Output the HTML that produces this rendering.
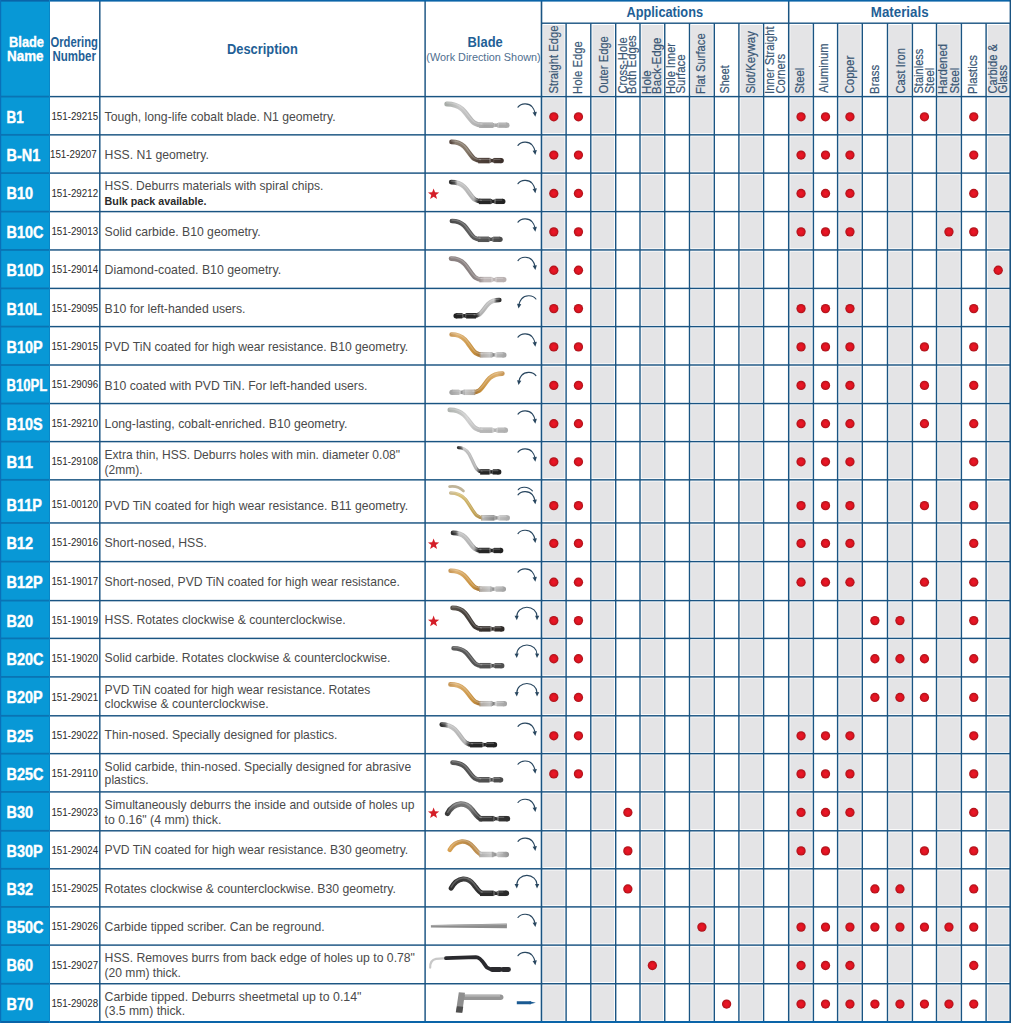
<!DOCTYPE html><html><head><meta charset="utf-8"><style>html,body{margin:0;padding:0;background:#fff;width:1011px;height:1023px;overflow:hidden}svg{display:block}text{font-family:"Liberation Sans",sans-serif}</style></head><body>
<svg width="1011" height="1023" viewBox="0 0 1011 1023">
<defs><radialGradient id="dot" cx="50%" cy="50%" r="50%"><stop offset="0" stop-color="#f0162a"/><stop offset="0.6" stop-color="#dc1420"/><stop offset="1" stop-color="#a8121a"/></radialGradient></defs>
<rect x="0" y="0" width="1011" height="1023" fill="#fff"/>
<rect x="0" y="0" width="49.6" height="1023" fill="#0898d6"/>
<rect x="543.10" y="25" width="21.40" height="70.00" fill="#e4e4e6"/>
<rect x="543.10" y="98.20" width="21.40" height="35.05" fill="#e4e4e6"/>
<rect x="543.10" y="136.45" width="21.40" height="35.05" fill="#e4e4e6"/>
<rect x="543.10" y="174.70" width="21.40" height="35.30" fill="#e4e4e6"/>
<rect x="543.10" y="213.20" width="21.40" height="35.15" fill="#e4e4e6"/>
<rect x="543.10" y="251.55" width="21.40" height="35.25" fill="#e4e4e6"/>
<rect x="543.10" y="290.00" width="21.40" height="35.00" fill="#e4e4e6"/>
<rect x="543.10" y="328.20" width="21.40" height="35.20" fill="#e4e4e6"/>
<rect x="543.10" y="366.60" width="21.40" height="35.35" fill="#e4e4e6"/>
<rect x="543.10" y="405.15" width="21.40" height="34.85" fill="#e4e4e6"/>
<rect x="543.10" y="443.20" width="21.40" height="35.05" fill="#e4e4e6"/>
<rect x="543.10" y="481.45" width="21.40" height="39.90" fill="#e4e4e6"/>
<rect x="543.10" y="524.55" width="21.40" height="35.45" fill="#e4e4e6"/>
<rect x="543.10" y="563.20" width="21.40" height="35.80" fill="#e4e4e6"/>
<rect x="543.10" y="602.20" width="21.40" height="34.60" fill="#e4e4e6"/>
<rect x="543.10" y="640.00" width="21.40" height="35.30" fill="#e4e4e6"/>
<rect x="543.10" y="678.50" width="21.40" height="35.70" fill="#e4e4e6"/>
<rect x="543.10" y="717.40" width="21.40" height="34.65" fill="#e4e4e6"/>
<rect x="543.10" y="755.25" width="21.40" height="35.05" fill="#e4e4e6"/>
<rect x="543.10" y="793.50" width="21.40" height="35.70" fill="#e4e4e6"/>
<rect x="543.10" y="832.40" width="21.40" height="34.80" fill="#e4e4e6"/>
<rect x="543.10" y="870.40" width="21.40" height="34.90" fill="#e4e4e6"/>
<rect x="543.10" y="908.50" width="21.40" height="35.00" fill="#e4e4e6"/>
<rect x="543.10" y="946.70" width="21.40" height="35.45" fill="#e4e4e6"/>
<rect x="543.10" y="985.35" width="21.40" height="35.25" fill="#e4e4e6"/>
<rect x="592.40" y="25" width="21.70" height="70.00" fill="#e4e4e6"/>
<rect x="592.40" y="98.20" width="21.70" height="35.05" fill="#e4e4e6"/>
<rect x="592.40" y="136.45" width="21.70" height="35.05" fill="#e4e4e6"/>
<rect x="592.40" y="174.70" width="21.70" height="35.30" fill="#e4e4e6"/>
<rect x="592.40" y="213.20" width="21.70" height="35.15" fill="#e4e4e6"/>
<rect x="592.40" y="251.55" width="21.70" height="35.25" fill="#e4e4e6"/>
<rect x="592.40" y="290.00" width="21.70" height="35.00" fill="#e4e4e6"/>
<rect x="592.40" y="328.20" width="21.70" height="35.20" fill="#e4e4e6"/>
<rect x="592.40" y="366.60" width="21.70" height="35.35" fill="#e4e4e6"/>
<rect x="592.40" y="405.15" width="21.70" height="34.85" fill="#e4e4e6"/>
<rect x="592.40" y="443.20" width="21.70" height="35.05" fill="#e4e4e6"/>
<rect x="592.40" y="481.45" width="21.70" height="39.90" fill="#e4e4e6"/>
<rect x="592.40" y="524.55" width="21.70" height="35.45" fill="#e4e4e6"/>
<rect x="592.40" y="563.20" width="21.70" height="35.80" fill="#e4e4e6"/>
<rect x="592.40" y="602.20" width="21.70" height="34.60" fill="#e4e4e6"/>
<rect x="592.40" y="640.00" width="21.70" height="35.30" fill="#e4e4e6"/>
<rect x="592.40" y="678.50" width="21.70" height="35.70" fill="#e4e4e6"/>
<rect x="592.40" y="717.40" width="21.70" height="34.65" fill="#e4e4e6"/>
<rect x="592.40" y="755.25" width="21.70" height="35.05" fill="#e4e4e6"/>
<rect x="592.40" y="793.50" width="21.70" height="35.70" fill="#e4e4e6"/>
<rect x="592.40" y="832.40" width="21.70" height="34.80" fill="#e4e4e6"/>
<rect x="592.40" y="870.40" width="21.70" height="34.90" fill="#e4e4e6"/>
<rect x="592.40" y="908.50" width="21.70" height="35.00" fill="#e4e4e6"/>
<rect x="592.40" y="946.70" width="21.70" height="35.45" fill="#e4e4e6"/>
<rect x="592.40" y="985.35" width="21.70" height="35.25" fill="#e4e4e6"/>
<rect x="641.60" y="25" width="21.55" height="70.00" fill="#e4e4e6"/>
<rect x="641.60" y="98.20" width="21.55" height="35.05" fill="#e4e4e6"/>
<rect x="641.60" y="136.45" width="21.55" height="35.05" fill="#e4e4e6"/>
<rect x="641.60" y="174.70" width="21.55" height="35.30" fill="#e4e4e6"/>
<rect x="641.60" y="213.20" width="21.55" height="35.15" fill="#e4e4e6"/>
<rect x="641.60" y="251.55" width="21.55" height="35.25" fill="#e4e4e6"/>
<rect x="641.60" y="290.00" width="21.55" height="35.00" fill="#e4e4e6"/>
<rect x="641.60" y="328.20" width="21.55" height="35.20" fill="#e4e4e6"/>
<rect x="641.60" y="366.60" width="21.55" height="35.35" fill="#e4e4e6"/>
<rect x="641.60" y="405.15" width="21.55" height="34.85" fill="#e4e4e6"/>
<rect x="641.60" y="443.20" width="21.55" height="35.05" fill="#e4e4e6"/>
<rect x="641.60" y="481.45" width="21.55" height="39.90" fill="#e4e4e6"/>
<rect x="641.60" y="524.55" width="21.55" height="35.45" fill="#e4e4e6"/>
<rect x="641.60" y="563.20" width="21.55" height="35.80" fill="#e4e4e6"/>
<rect x="641.60" y="602.20" width="21.55" height="34.60" fill="#e4e4e6"/>
<rect x="641.60" y="640.00" width="21.55" height="35.30" fill="#e4e4e6"/>
<rect x="641.60" y="678.50" width="21.55" height="35.70" fill="#e4e4e6"/>
<rect x="641.60" y="717.40" width="21.55" height="34.65" fill="#e4e4e6"/>
<rect x="641.60" y="755.25" width="21.55" height="35.05" fill="#e4e4e6"/>
<rect x="641.60" y="793.50" width="21.55" height="35.70" fill="#e4e4e6"/>
<rect x="641.60" y="832.40" width="21.55" height="34.80" fill="#e4e4e6"/>
<rect x="641.60" y="870.40" width="21.55" height="34.90" fill="#e4e4e6"/>
<rect x="641.60" y="908.50" width="21.55" height="35.00" fill="#e4e4e6"/>
<rect x="641.60" y="946.70" width="21.55" height="35.45" fill="#e4e4e6"/>
<rect x="641.60" y="985.35" width="21.55" height="35.25" fill="#e4e4e6"/>
<rect x="691.10" y="25" width="21.60" height="70.00" fill="#e4e4e6"/>
<rect x="691.10" y="98.20" width="21.60" height="35.05" fill="#e4e4e6"/>
<rect x="691.10" y="136.45" width="21.60" height="35.05" fill="#e4e4e6"/>
<rect x="691.10" y="174.70" width="21.60" height="35.30" fill="#e4e4e6"/>
<rect x="691.10" y="213.20" width="21.60" height="35.15" fill="#e4e4e6"/>
<rect x="691.10" y="251.55" width="21.60" height="35.25" fill="#e4e4e6"/>
<rect x="691.10" y="290.00" width="21.60" height="35.00" fill="#e4e4e6"/>
<rect x="691.10" y="328.20" width="21.60" height="35.20" fill="#e4e4e6"/>
<rect x="691.10" y="366.60" width="21.60" height="35.35" fill="#e4e4e6"/>
<rect x="691.10" y="405.15" width="21.60" height="34.85" fill="#e4e4e6"/>
<rect x="691.10" y="443.20" width="21.60" height="35.05" fill="#e4e4e6"/>
<rect x="691.10" y="481.45" width="21.60" height="39.90" fill="#e4e4e6"/>
<rect x="691.10" y="524.55" width="21.60" height="35.45" fill="#e4e4e6"/>
<rect x="691.10" y="563.20" width="21.60" height="35.80" fill="#e4e4e6"/>
<rect x="691.10" y="602.20" width="21.60" height="34.60" fill="#e4e4e6"/>
<rect x="691.10" y="640.00" width="21.60" height="35.30" fill="#e4e4e6"/>
<rect x="691.10" y="678.50" width="21.60" height="35.70" fill="#e4e4e6"/>
<rect x="691.10" y="717.40" width="21.60" height="34.65" fill="#e4e4e6"/>
<rect x="691.10" y="755.25" width="21.60" height="35.05" fill="#e4e4e6"/>
<rect x="691.10" y="793.50" width="21.60" height="35.70" fill="#e4e4e6"/>
<rect x="691.10" y="832.40" width="21.60" height="34.80" fill="#e4e4e6"/>
<rect x="691.10" y="870.40" width="21.60" height="34.90" fill="#e4e4e6"/>
<rect x="691.10" y="908.50" width="21.60" height="35.00" fill="#e4e4e6"/>
<rect x="691.10" y="946.70" width="21.60" height="35.45" fill="#e4e4e6"/>
<rect x="691.10" y="985.35" width="21.60" height="35.25" fill="#e4e4e6"/>
<rect x="740.50" y="25" width="21.50" height="70.00" fill="#e4e4e6"/>
<rect x="740.50" y="98.20" width="21.50" height="35.05" fill="#e4e4e6"/>
<rect x="740.50" y="136.45" width="21.50" height="35.05" fill="#e4e4e6"/>
<rect x="740.50" y="174.70" width="21.50" height="35.30" fill="#e4e4e6"/>
<rect x="740.50" y="213.20" width="21.50" height="35.15" fill="#e4e4e6"/>
<rect x="740.50" y="251.55" width="21.50" height="35.25" fill="#e4e4e6"/>
<rect x="740.50" y="290.00" width="21.50" height="35.00" fill="#e4e4e6"/>
<rect x="740.50" y="328.20" width="21.50" height="35.20" fill="#e4e4e6"/>
<rect x="740.50" y="366.60" width="21.50" height="35.35" fill="#e4e4e6"/>
<rect x="740.50" y="405.15" width="21.50" height="34.85" fill="#e4e4e6"/>
<rect x="740.50" y="443.20" width="21.50" height="35.05" fill="#e4e4e6"/>
<rect x="740.50" y="481.45" width="21.50" height="39.90" fill="#e4e4e6"/>
<rect x="740.50" y="524.55" width="21.50" height="35.45" fill="#e4e4e6"/>
<rect x="740.50" y="563.20" width="21.50" height="35.80" fill="#e4e4e6"/>
<rect x="740.50" y="602.20" width="21.50" height="34.60" fill="#e4e4e6"/>
<rect x="740.50" y="640.00" width="21.50" height="35.30" fill="#e4e4e6"/>
<rect x="740.50" y="678.50" width="21.50" height="35.70" fill="#e4e4e6"/>
<rect x="740.50" y="717.40" width="21.50" height="34.65" fill="#e4e4e6"/>
<rect x="740.50" y="755.25" width="21.50" height="35.05" fill="#e4e4e6"/>
<rect x="740.50" y="793.50" width="21.50" height="35.70" fill="#e4e4e6"/>
<rect x="740.50" y="832.40" width="21.50" height="34.80" fill="#e4e4e6"/>
<rect x="740.50" y="870.40" width="21.50" height="34.90" fill="#e4e4e6"/>
<rect x="740.50" y="908.50" width="21.50" height="35.00" fill="#e4e4e6"/>
<rect x="740.50" y="946.70" width="21.50" height="35.45" fill="#e4e4e6"/>
<rect x="740.50" y="985.35" width="21.50" height="35.25" fill="#e4e4e6"/>
<rect x="790.30" y="25" width="21.50" height="70.00" fill="#e4e4e6"/>
<rect x="790.30" y="98.20" width="21.50" height="35.05" fill="#e4e4e6"/>
<rect x="790.30" y="136.45" width="21.50" height="35.05" fill="#e4e4e6"/>
<rect x="790.30" y="174.70" width="21.50" height="35.30" fill="#e4e4e6"/>
<rect x="790.30" y="213.20" width="21.50" height="35.15" fill="#e4e4e6"/>
<rect x="790.30" y="251.55" width="21.50" height="35.25" fill="#e4e4e6"/>
<rect x="790.30" y="290.00" width="21.50" height="35.00" fill="#e4e4e6"/>
<rect x="790.30" y="328.20" width="21.50" height="35.20" fill="#e4e4e6"/>
<rect x="790.30" y="366.60" width="21.50" height="35.35" fill="#e4e4e6"/>
<rect x="790.30" y="405.15" width="21.50" height="34.85" fill="#e4e4e6"/>
<rect x="790.30" y="443.20" width="21.50" height="35.05" fill="#e4e4e6"/>
<rect x="790.30" y="481.45" width="21.50" height="39.90" fill="#e4e4e6"/>
<rect x="790.30" y="524.55" width="21.50" height="35.45" fill="#e4e4e6"/>
<rect x="790.30" y="563.20" width="21.50" height="35.80" fill="#e4e4e6"/>
<rect x="790.30" y="602.20" width="21.50" height="34.60" fill="#e4e4e6"/>
<rect x="790.30" y="640.00" width="21.50" height="35.30" fill="#e4e4e6"/>
<rect x="790.30" y="678.50" width="21.50" height="35.70" fill="#e4e4e6"/>
<rect x="790.30" y="717.40" width="21.50" height="34.65" fill="#e4e4e6"/>
<rect x="790.30" y="755.25" width="21.50" height="35.05" fill="#e4e4e6"/>
<rect x="790.30" y="793.50" width="21.50" height="35.70" fill="#e4e4e6"/>
<rect x="790.30" y="832.40" width="21.50" height="34.80" fill="#e4e4e6"/>
<rect x="790.30" y="870.40" width="21.50" height="34.90" fill="#e4e4e6"/>
<rect x="790.30" y="908.50" width="21.50" height="35.00" fill="#e4e4e6"/>
<rect x="790.30" y="946.70" width="21.50" height="35.45" fill="#e4e4e6"/>
<rect x="790.30" y="985.35" width="21.50" height="35.25" fill="#e4e4e6"/>
<rect x="839.20" y="25" width="21.50" height="70.00" fill="#e4e4e6"/>
<rect x="839.20" y="98.20" width="21.50" height="35.05" fill="#e4e4e6"/>
<rect x="839.20" y="136.45" width="21.50" height="35.05" fill="#e4e4e6"/>
<rect x="839.20" y="174.70" width="21.50" height="35.30" fill="#e4e4e6"/>
<rect x="839.20" y="213.20" width="21.50" height="35.15" fill="#e4e4e6"/>
<rect x="839.20" y="251.55" width="21.50" height="35.25" fill="#e4e4e6"/>
<rect x="839.20" y="290.00" width="21.50" height="35.00" fill="#e4e4e6"/>
<rect x="839.20" y="328.20" width="21.50" height="35.20" fill="#e4e4e6"/>
<rect x="839.20" y="366.60" width="21.50" height="35.35" fill="#e4e4e6"/>
<rect x="839.20" y="405.15" width="21.50" height="34.85" fill="#e4e4e6"/>
<rect x="839.20" y="443.20" width="21.50" height="35.05" fill="#e4e4e6"/>
<rect x="839.20" y="481.45" width="21.50" height="39.90" fill="#e4e4e6"/>
<rect x="839.20" y="524.55" width="21.50" height="35.45" fill="#e4e4e6"/>
<rect x="839.20" y="563.20" width="21.50" height="35.80" fill="#e4e4e6"/>
<rect x="839.20" y="602.20" width="21.50" height="34.60" fill="#e4e4e6"/>
<rect x="839.20" y="640.00" width="21.50" height="35.30" fill="#e4e4e6"/>
<rect x="839.20" y="678.50" width="21.50" height="35.70" fill="#e4e4e6"/>
<rect x="839.20" y="717.40" width="21.50" height="34.65" fill="#e4e4e6"/>
<rect x="839.20" y="755.25" width="21.50" height="35.05" fill="#e4e4e6"/>
<rect x="839.20" y="793.50" width="21.50" height="35.70" fill="#e4e4e6"/>
<rect x="839.20" y="832.40" width="21.50" height="34.80" fill="#e4e4e6"/>
<rect x="839.20" y="870.40" width="21.50" height="34.90" fill="#e4e4e6"/>
<rect x="839.20" y="908.50" width="21.50" height="35.00" fill="#e4e4e6"/>
<rect x="839.20" y="946.70" width="21.50" height="35.45" fill="#e4e4e6"/>
<rect x="839.20" y="985.35" width="21.50" height="35.25" fill="#e4e4e6"/>
<rect x="889.10" y="25" width="21.70" height="70.00" fill="#e4e4e6"/>
<rect x="889.10" y="98.20" width="21.70" height="35.05" fill="#e4e4e6"/>
<rect x="889.10" y="136.45" width="21.70" height="35.05" fill="#e4e4e6"/>
<rect x="889.10" y="174.70" width="21.70" height="35.30" fill="#e4e4e6"/>
<rect x="889.10" y="213.20" width="21.70" height="35.15" fill="#e4e4e6"/>
<rect x="889.10" y="251.55" width="21.70" height="35.25" fill="#e4e4e6"/>
<rect x="889.10" y="290.00" width="21.70" height="35.00" fill="#e4e4e6"/>
<rect x="889.10" y="328.20" width="21.70" height="35.20" fill="#e4e4e6"/>
<rect x="889.10" y="366.60" width="21.70" height="35.35" fill="#e4e4e6"/>
<rect x="889.10" y="405.15" width="21.70" height="34.85" fill="#e4e4e6"/>
<rect x="889.10" y="443.20" width="21.70" height="35.05" fill="#e4e4e6"/>
<rect x="889.10" y="481.45" width="21.70" height="39.90" fill="#e4e4e6"/>
<rect x="889.10" y="524.55" width="21.70" height="35.45" fill="#e4e4e6"/>
<rect x="889.10" y="563.20" width="21.70" height="35.80" fill="#e4e4e6"/>
<rect x="889.10" y="602.20" width="21.70" height="34.60" fill="#e4e4e6"/>
<rect x="889.10" y="640.00" width="21.70" height="35.30" fill="#e4e4e6"/>
<rect x="889.10" y="678.50" width="21.70" height="35.70" fill="#e4e4e6"/>
<rect x="889.10" y="717.40" width="21.70" height="34.65" fill="#e4e4e6"/>
<rect x="889.10" y="755.25" width="21.70" height="35.05" fill="#e4e4e6"/>
<rect x="889.10" y="793.50" width="21.70" height="35.70" fill="#e4e4e6"/>
<rect x="889.10" y="832.40" width="21.70" height="34.80" fill="#e4e4e6"/>
<rect x="889.10" y="870.40" width="21.70" height="34.90" fill="#e4e4e6"/>
<rect x="889.10" y="908.50" width="21.70" height="35.00" fill="#e4e4e6"/>
<rect x="889.10" y="946.70" width="21.70" height="35.45" fill="#e4e4e6"/>
<rect x="889.10" y="985.35" width="21.70" height="35.25" fill="#e4e4e6"/>
<rect x="938.10" y="25" width="21.70" height="70.00" fill="#e4e4e6"/>
<rect x="938.10" y="98.20" width="21.70" height="35.05" fill="#e4e4e6"/>
<rect x="938.10" y="136.45" width="21.70" height="35.05" fill="#e4e4e6"/>
<rect x="938.10" y="174.70" width="21.70" height="35.30" fill="#e4e4e6"/>
<rect x="938.10" y="213.20" width="21.70" height="35.15" fill="#e4e4e6"/>
<rect x="938.10" y="251.55" width="21.70" height="35.25" fill="#e4e4e6"/>
<rect x="938.10" y="290.00" width="21.70" height="35.00" fill="#e4e4e6"/>
<rect x="938.10" y="328.20" width="21.70" height="35.20" fill="#e4e4e6"/>
<rect x="938.10" y="366.60" width="21.70" height="35.35" fill="#e4e4e6"/>
<rect x="938.10" y="405.15" width="21.70" height="34.85" fill="#e4e4e6"/>
<rect x="938.10" y="443.20" width="21.70" height="35.05" fill="#e4e4e6"/>
<rect x="938.10" y="481.45" width="21.70" height="39.90" fill="#e4e4e6"/>
<rect x="938.10" y="524.55" width="21.70" height="35.45" fill="#e4e4e6"/>
<rect x="938.10" y="563.20" width="21.70" height="35.80" fill="#e4e4e6"/>
<rect x="938.10" y="602.20" width="21.70" height="34.60" fill="#e4e4e6"/>
<rect x="938.10" y="640.00" width="21.70" height="35.30" fill="#e4e4e6"/>
<rect x="938.10" y="678.50" width="21.70" height="35.70" fill="#e4e4e6"/>
<rect x="938.10" y="717.40" width="21.70" height="34.65" fill="#e4e4e6"/>
<rect x="938.10" y="755.25" width="21.70" height="35.05" fill="#e4e4e6"/>
<rect x="938.10" y="793.50" width="21.70" height="35.70" fill="#e4e4e6"/>
<rect x="938.10" y="832.40" width="21.70" height="34.80" fill="#e4e4e6"/>
<rect x="938.10" y="870.40" width="21.70" height="34.90" fill="#e4e4e6"/>
<rect x="938.10" y="908.50" width="21.70" height="35.00" fill="#e4e4e6"/>
<rect x="938.10" y="946.70" width="21.70" height="35.45" fill="#e4e4e6"/>
<rect x="938.10" y="985.35" width="21.70" height="35.25" fill="#e4e4e6"/>
<rect x="987.70" y="25" width="21.00" height="70.00" fill="#e4e4e6"/>
<rect x="987.70" y="98.20" width="21.00" height="35.05" fill="#e4e4e6"/>
<rect x="987.70" y="136.45" width="21.00" height="35.05" fill="#e4e4e6"/>
<rect x="987.70" y="174.70" width="21.00" height="35.30" fill="#e4e4e6"/>
<rect x="987.70" y="213.20" width="21.00" height="35.15" fill="#e4e4e6"/>
<rect x="987.70" y="251.55" width="21.00" height="35.25" fill="#e4e4e6"/>
<rect x="987.70" y="290.00" width="21.00" height="35.00" fill="#e4e4e6"/>
<rect x="987.70" y="328.20" width="21.00" height="35.20" fill="#e4e4e6"/>
<rect x="987.70" y="366.60" width="21.00" height="35.35" fill="#e4e4e6"/>
<rect x="987.70" y="405.15" width="21.00" height="34.85" fill="#e4e4e6"/>
<rect x="987.70" y="443.20" width="21.00" height="35.05" fill="#e4e4e6"/>
<rect x="987.70" y="481.45" width="21.00" height="39.90" fill="#e4e4e6"/>
<rect x="987.70" y="524.55" width="21.00" height="35.45" fill="#e4e4e6"/>
<rect x="987.70" y="563.20" width="21.00" height="35.80" fill="#e4e4e6"/>
<rect x="987.70" y="602.20" width="21.00" height="34.60" fill="#e4e4e6"/>
<rect x="987.70" y="640.00" width="21.00" height="35.30" fill="#e4e4e6"/>
<rect x="987.70" y="678.50" width="21.00" height="35.70" fill="#e4e4e6"/>
<rect x="987.70" y="717.40" width="21.00" height="34.65" fill="#e4e4e6"/>
<rect x="987.70" y="755.25" width="21.00" height="35.05" fill="#e4e4e6"/>
<rect x="987.70" y="793.50" width="21.00" height="35.70" fill="#e4e4e6"/>
<rect x="987.70" y="832.40" width="21.00" height="34.80" fill="#e4e4e6"/>
<rect x="987.70" y="870.40" width="21.00" height="34.90" fill="#e4e4e6"/>
<rect x="987.70" y="908.50" width="21.00" height="35.00" fill="#e4e4e6"/>
<rect x="987.70" y="946.70" width="21.00" height="35.45" fill="#e4e4e6"/>
<rect x="987.70" y="985.35" width="21.00" height="35.25" fill="#e4e4e6"/>
<rect x="49.60" y="95.88" width="961.40" height="1.45" fill="#1a5482"/>
<rect x="0.00" y="95.70" width="49.60" height="1.80" fill="#0a74b4"/>
<rect x="49.60" y="134.12" width="961.40" height="1.45" fill="#1a5482"/>
<rect x="0.00" y="133.95" width="49.60" height="1.80" fill="#0a74b4"/>
<rect x="49.60" y="172.38" width="961.40" height="1.45" fill="#1a5482"/>
<rect x="0.00" y="172.20" width="49.60" height="1.80" fill="#0a74b4"/>
<rect x="49.60" y="210.88" width="961.40" height="1.45" fill="#1a5482"/>
<rect x="0.00" y="210.70" width="49.60" height="1.80" fill="#0a74b4"/>
<rect x="49.60" y="249.22" width="961.40" height="1.45" fill="#1a5482"/>
<rect x="0.00" y="249.05" width="49.60" height="1.80" fill="#0a74b4"/>
<rect x="49.60" y="287.67" width="961.40" height="1.45" fill="#1a5482"/>
<rect x="0.00" y="287.50" width="49.60" height="1.80" fill="#0a74b4"/>
<rect x="49.60" y="325.88" width="961.40" height="1.45" fill="#1a5482"/>
<rect x="0.00" y="325.70" width="49.60" height="1.80" fill="#0a74b4"/>
<rect x="49.60" y="364.27" width="961.40" height="1.45" fill="#1a5482"/>
<rect x="0.00" y="364.10" width="49.60" height="1.80" fill="#0a74b4"/>
<rect x="49.60" y="402.82" width="961.40" height="1.45" fill="#1a5482"/>
<rect x="0.00" y="402.65" width="49.60" height="1.80" fill="#0a74b4"/>
<rect x="49.60" y="440.88" width="961.40" height="1.45" fill="#1a5482"/>
<rect x="0.00" y="440.70" width="49.60" height="1.80" fill="#0a74b4"/>
<rect x="49.60" y="479.12" width="961.40" height="1.45" fill="#1a5482"/>
<rect x="0.00" y="478.95" width="49.60" height="1.80" fill="#0a74b4"/>
<rect x="49.60" y="522.23" width="961.40" height="1.45" fill="#1a5482"/>
<rect x="0.00" y="522.05" width="49.60" height="1.80" fill="#0a74b4"/>
<rect x="49.60" y="560.88" width="961.40" height="1.45" fill="#1a5482"/>
<rect x="0.00" y="560.70" width="49.60" height="1.80" fill="#0a74b4"/>
<rect x="49.60" y="599.88" width="961.40" height="1.45" fill="#1a5482"/>
<rect x="0.00" y="599.70" width="49.60" height="1.80" fill="#0a74b4"/>
<rect x="49.60" y="637.67" width="961.40" height="1.45" fill="#1a5482"/>
<rect x="0.00" y="637.50" width="49.60" height="1.80" fill="#0a74b4"/>
<rect x="49.60" y="676.17" width="961.40" height="1.45" fill="#1a5482"/>
<rect x="0.00" y="676.00" width="49.60" height="1.80" fill="#0a74b4"/>
<rect x="49.60" y="715.07" width="961.40" height="1.45" fill="#1a5482"/>
<rect x="0.00" y="714.90" width="49.60" height="1.80" fill="#0a74b4"/>
<rect x="49.60" y="752.92" width="961.40" height="1.45" fill="#1a5482"/>
<rect x="0.00" y="752.75" width="49.60" height="1.80" fill="#0a74b4"/>
<rect x="49.60" y="791.17" width="961.40" height="1.45" fill="#1a5482"/>
<rect x="0.00" y="791.00" width="49.60" height="1.80" fill="#0a74b4"/>
<rect x="49.60" y="830.07" width="961.40" height="1.45" fill="#1a5482"/>
<rect x="0.00" y="829.90" width="49.60" height="1.80" fill="#0a74b4"/>
<rect x="49.60" y="868.07" width="961.40" height="1.45" fill="#1a5482"/>
<rect x="0.00" y="867.90" width="49.60" height="1.80" fill="#0a74b4"/>
<rect x="49.60" y="906.17" width="961.40" height="1.45" fill="#1a5482"/>
<rect x="0.00" y="906.00" width="49.60" height="1.80" fill="#0a74b4"/>
<rect x="49.60" y="944.38" width="961.40" height="1.45" fill="#1a5482"/>
<rect x="0.00" y="944.20" width="49.60" height="1.80" fill="#0a74b4"/>
<rect x="49.60" y="983.02" width="961.40" height="1.45" fill="#1a5482"/>
<rect x="0.00" y="982.85" width="49.60" height="1.80" fill="#0a74b4"/>
<rect x="541.50" y="22.50" width="469.50" height="1.40" fill="#1a5482"/>
<rect x="99.08" y="0.00" width="1.45" height="1023.00" fill="#1a5482"/>
<rect x="424.38" y="0.00" width="1.45" height="1023.00" fill="#1a5482"/>
<rect x="540.70" y="0.00" width="1.60" height="1023.00" fill="#1a5482"/>
<rect x="565.40" y="23.20" width="1.40" height="999.80" fill="#1a5482"/>
<rect x="590.10" y="23.20" width="1.40" height="999.80" fill="#1a5482"/>
<rect x="615.00" y="23.20" width="1.40" height="999.80" fill="#1a5482"/>
<rect x="639.30" y="23.20" width="1.40" height="999.80" fill="#1a5482"/>
<rect x="664.05" y="23.20" width="1.40" height="999.80" fill="#1a5482"/>
<rect x="688.80" y="23.20" width="1.40" height="999.80" fill="#1a5482"/>
<rect x="713.60" y="23.20" width="1.40" height="999.80" fill="#1a5482"/>
<rect x="738.20" y="23.20" width="1.40" height="999.80" fill="#1a5482"/>
<rect x="762.90" y="23.20" width="1.40" height="999.80" fill="#1a5482"/>
<rect x="787.95" y="0.00" width="1.50" height="1023.00" fill="#1a5482"/>
<rect x="812.70" y="23.20" width="1.40" height="999.80" fill="#1a5482"/>
<rect x="836.90" y="23.20" width="1.40" height="999.80" fill="#1a5482"/>
<rect x="861.60" y="23.20" width="1.40" height="999.80" fill="#1a5482"/>
<rect x="886.80" y="23.20" width="1.40" height="999.80" fill="#1a5482"/>
<rect x="911.70" y="23.20" width="1.40" height="999.80" fill="#1a5482"/>
<rect x="935.80" y="23.20" width="1.40" height="999.80" fill="#1a5482"/>
<rect x="960.70" y="23.20" width="1.40" height="999.80" fill="#1a5482"/>
<rect x="985.40" y="23.20" width="1.40" height="999.80" fill="#1a5482"/>
<rect x="1009.60" y="23.20" width="1.40" height="999.80" fill="#1a5482"/>
<rect x="0" y="0" width="1011" height="1.6" fill="#0a64a8"/>
<rect x="0" y="1021" width="1011" height="2" fill="#0a64a8"/>
<rect x="0" y="0" width="1.2" height="1023" fill="#0a70b8"/>
<rect x="1009.60" y="0.00" width="1.40" height="1023.00" fill="#1a5482"/>
<rect x="49.00" y="0.00" width="1.00" height="1023.00" fill="#0a86c6"/>
<text x="9.08" y="46.80" font-size="14.00" font-weight="bold" fill="#ffffff" text-anchor="start" textLength="34.90" lengthAdjust="spacingAndGlyphs" stroke="#ffffff" stroke-width="0.35">Blade</text>
<text x="7.04" y="61.20" font-size="14.00" font-weight="bold" fill="#ffffff" text-anchor="start" textLength="36.47" lengthAdjust="spacingAndGlyphs" stroke="#ffffff" stroke-width="0.35">Name</text>
<text x="50.42" y="46.60" font-size="14.00" font-weight="bold" fill="#1f5f96" text-anchor="start" textLength="47.52" lengthAdjust="spacingAndGlyphs">Ordering</text>
<text x="52.56" y="61.20" font-size="14.00" font-weight="bold" fill="#1f5f96" text-anchor="start" textLength="43.38" lengthAdjust="spacingAndGlyphs">Number</text>
<text x="226.97" y="53.60" font-size="14.00" font-weight="bold" fill="#1f5f96" text-anchor="start" textLength="70.88" lengthAdjust="spacingAndGlyphs">Description</text>
<text x="467.57" y="46.60" font-size="14.00" font-weight="bold" fill="#1f5f96" text-anchor="start" textLength="35.11" lengthAdjust="spacingAndGlyphs">Blade</text>
<text x="483.50" y="61.20" font-size="11.50" font-weight="normal" fill="#4f6f8f" text-anchor="middle" textLength="114.30" lengthAdjust="spacingAndGlyphs">(Work Direction Shown)</text>
<text x="626.54" y="16.70" font-size="14.00" font-weight="bold" fill="#1f5f96" text-anchor="start" textLength="76.52" lengthAdjust="spacingAndGlyphs">Applications</text>
<text x="870.84" y="16.60" font-size="14.00" font-weight="bold" fill="#1f5f96" text-anchor="start" textLength="57.72" lengthAdjust="spacingAndGlyphs">Materials</text>
<text transform="translate(558.30,93.54) rotate(-90) scale(0.9008,1)" font-size="12.5" fill="#3a5775" stroke="#3a5775" stroke-width="0.2">Straight Edge</text>
<text transform="translate(582.45,93.90) rotate(-90) scale(0.9049,1)" font-size="12.5" fill="#3a5775" stroke="#3a5775" stroke-width="0.2">Hole Edge</text>
<text transform="translate(607.55,93.54) rotate(-90) scale(0.8981,1)" font-size="12.5" fill="#3a5775" stroke="#3a5775" stroke-width="0.2">Outer Edge</text>
<text transform="translate(626.75,93.54) rotate(-90) scale(0.9023,1)" font-size="12.5" fill="#3a5775" stroke="#3a5775" stroke-width="0.2">Cross-Hole</text>
<text transform="translate(636.25,93.91) rotate(-90) scale(0.9082,1)" font-size="12.5" fill="#3a5775" stroke="#3a5775" stroke-width="0.2">Both Edges</text>
<text transform="translate(651.02,93.92) rotate(-90) scale(0.9215,1)" font-size="12.5" fill="#3a5775" stroke="#3a5775" stroke-width="0.2">Hole</text>
<text transform="translate(660.92,93.92) rotate(-90) scale(0.9211,1)" font-size="12.5" fill="#3a5775" stroke="#3a5775" stroke-width="0.2">Back-Edge</text>
<text transform="translate(675.02,93.88) rotate(-90) scale(0.8832,1)" font-size="12.5" fill="#3a5775" stroke="#3a5775" stroke-width="0.2">Hole Inner</text>
<text transform="translate(685.02,93.55) rotate(-90) scale(0.9093,1)" font-size="12.5" fill="#3a5775" stroke="#3a5775" stroke-width="0.2">Surface</text>
<text transform="translate(704.55,93.90) rotate(-90) scale(0.9012,1)" font-size="12.5" fill="#3a5775" stroke="#3a5775" stroke-width="0.2">Flat Surface</text>
<text transform="translate(729.05,93.52) rotate(-90) scale(0.8656,1)" font-size="12.5" fill="#3a5775" stroke="#3a5775" stroke-width="0.2">Sheet</text>
<text transform="translate(754.70,93.54) rotate(-90) scale(0.9075,1)" font-size="12.5" fill="#3a5775" stroke="#3a5775" stroke-width="0.2">Slot/Keyway</text>
<text transform="translate(773.75,93.99) rotate(-90) scale(0.9026,1)" font-size="12.5" fill="#3a5775" stroke="#3a5775" stroke-width="0.2">Inner Straight</text>
<text transform="translate(784.65,93.53) rotate(-90) scale(0.8894,1)" font-size="12.5" fill="#3a5775" stroke="#3a5775" stroke-width="0.2">Corners</text>
<text transform="translate(804.05,93.55) rotate(-90) scale(0.9114,1)" font-size="12.5" fill="#3a5775" stroke="#3a5775" stroke-width="0.2">Steel</text>
<text transform="translate(828.40,93.00) rotate(-90) scale(0.8923,1)" font-size="12.5" fill="#3a5775" stroke="#3a5775" stroke-width="0.2">Aluminum</text>
<text transform="translate(853.75,93.55) rotate(-90) scale(0.9229,1)" font-size="12.5" fill="#3a5775" stroke="#3a5775" stroke-width="0.2">Copper</text>
<text transform="translate(878.60,93.91) rotate(-90) scale(0.9082,1)" font-size="12.5" fill="#3a5775" stroke="#3a5775" stroke-width="0.2">Brass</text>
<text transform="translate(904.55,93.54) rotate(-90) scale(0.9008,1)" font-size="12.5" fill="#3a5775" stroke="#3a5775" stroke-width="0.2">Cast Iron</text>
<text transform="translate(923.25,93.53) rotate(-90) scale(0.8853,1)" font-size="12.5" fill="#3a5775" stroke="#3a5775" stroke-width="0.2">Stainless</text>
<text transform="translate(933.65,93.55) rotate(-90) scale(0.9114,1)" font-size="12.5" fill="#3a5775" stroke="#3a5775" stroke-width="0.2">Steel</text>
<text transform="translate(947.25,93.91) rotate(-90) scale(0.9115,1)" font-size="12.5" fill="#3a5775" stroke="#3a5775" stroke-width="0.2">Hardened</text>
<text transform="translate(958.65,93.55) rotate(-90) scale(0.9114,1)" font-size="12.5" fill="#3a5775" stroke="#3a5775" stroke-width="0.2">Steel</text>
<text transform="translate(977.35,93.90) rotate(-90) scale(0.9038,1)" font-size="12.5" fill="#3a5775" stroke="#3a5775" stroke-width="0.2">Plastics</text>
<text transform="translate(997.30,93.54) rotate(-90) scale(0.8923,1)" font-size="12.5" fill="#3a5775" stroke="#3a5775" stroke-width="0.2">Carbide &amp;</text>
<text transform="translate(1007.20,93.54) rotate(-90) scale(0.8964,1)" font-size="12.5" fill="#3a5775" stroke="#3a5775" stroke-width="0.2">Glass</text>
<text transform="translate(6.55,122.72) scale(0.790,1)" font-size="17" font-weight="bold" fill="#ffffff" stroke="#ffffff" stroke-width="0.45">B1</text>
<text x="74.75" y="119.92" font-size="10.80" font-weight="normal" fill="#2a2a2a" text-anchor="middle" textLength="46.70" lengthAdjust="spacingAndGlyphs">151-29215</text>
<text x="104.60" y="120.70" font-size="12.15" font-weight="normal" fill="#4a4a4a" text-anchor="start" textLength="230.92" lengthAdjust="spacingAndGlyphs">Tough, long-life cobalt blade. N1 geometry.</text>
<circle cx="553.80" cy="116.82" r="4.65" fill="url(#dot)"/>
<circle cx="578.45" cy="116.82" r="4.65" fill="url(#dot)"/>
<circle cx="801.05" cy="116.82" r="4.65" fill="url(#dot)"/>
<circle cx="825.50" cy="116.82" r="4.65" fill="url(#dot)"/>
<circle cx="849.95" cy="116.82" r="4.65" fill="url(#dot)"/>
<circle cx="924.45" cy="116.82" r="4.65" fill="url(#dot)"/>
<circle cx="973.75" cy="116.82" r="4.65" fill="url(#dot)"/>
<text transform="translate(6.55,160.97) scale(0.850,1)" font-size="17" font-weight="bold" fill="#ffffff" stroke="#ffffff" stroke-width="0.45">B-N1</text>
<text x="73.35" y="158.17" font-size="10.80" font-weight="normal" fill="#2a2a2a" text-anchor="middle" textLength="46.70" lengthAdjust="spacingAndGlyphs">151-29207</text>
<text x="104.60" y="158.90" font-size="12.15" font-weight="normal" fill="#4a4a4a" text-anchor="start" textLength="104.18" lengthAdjust="spacingAndGlyphs">HSS. N1 geometry.</text>
<circle cx="553.80" cy="155.07" r="4.65" fill="url(#dot)"/>
<circle cx="578.45" cy="155.07" r="4.65" fill="url(#dot)"/>
<circle cx="801.05" cy="155.07" r="4.65" fill="url(#dot)"/>
<circle cx="825.50" cy="155.07" r="4.65" fill="url(#dot)"/>
<circle cx="849.95" cy="155.07" r="4.65" fill="url(#dot)"/>
<circle cx="973.75" cy="155.07" r="4.65" fill="url(#dot)"/>
<text transform="translate(6.55,199.35) scale(0.850,1)" font-size="17" font-weight="bold" fill="#ffffff" stroke="#ffffff" stroke-width="0.45">B10</text>
<text x="74.75" y="196.55" font-size="10.80" font-weight="normal" fill="#2a2a2a" text-anchor="middle" textLength="46.70" lengthAdjust="spacingAndGlyphs">151-29212</text>
<text x="104.60" y="189.80" font-size="12.15" font-weight="normal" fill="#4a4a4a" text-anchor="start" textLength="218.70" lengthAdjust="spacingAndGlyphs">HSS. Deburrs materials with spiral chips.</text>
<text x="104.60" y="204.70" font-size="11.50" font-weight="bold" fill="#2a2a2a" text-anchor="start" textLength="101.95" lengthAdjust="spacingAndGlyphs">Bulk pack available.</text>
<circle cx="553.80" cy="193.45" r="4.65" fill="url(#dot)"/>
<circle cx="578.45" cy="193.45" r="4.65" fill="url(#dot)"/>
<circle cx="801.05" cy="193.45" r="4.65" fill="url(#dot)"/>
<circle cx="825.50" cy="193.45" r="4.65" fill="url(#dot)"/>
<circle cx="849.95" cy="193.45" r="4.65" fill="url(#dot)"/>
<circle cx="973.75" cy="193.45" r="4.65" fill="url(#dot)"/>
<polygon points="433.60,188.45 435.04,192.37 439.21,192.53 435.93,195.11 437.07,199.12 433.60,196.80 430.13,199.12 431.27,195.11 427.99,192.53 432.16,192.37" fill="#d41e28"/>
<text transform="translate(6.55,237.77) scale(0.850,1)" font-size="17" font-weight="bold" fill="#ffffff" stroke="#ffffff" stroke-width="0.45">B10C</text>
<text x="74.75" y="234.97" font-size="10.80" font-weight="normal" fill="#2a2a2a" text-anchor="middle" textLength="46.70" lengthAdjust="spacingAndGlyphs">151-29013</text>
<text x="104.60" y="235.70" font-size="12.15" font-weight="normal" fill="#4a4a4a" text-anchor="start" textLength="155.94" lengthAdjust="spacingAndGlyphs">Solid carbide. B10 geometry.</text>
<circle cx="553.80" cy="231.87" r="4.65" fill="url(#dot)"/>
<circle cx="578.45" cy="231.87" r="4.65" fill="url(#dot)"/>
<circle cx="801.05" cy="231.87" r="4.65" fill="url(#dot)"/>
<circle cx="825.50" cy="231.87" r="4.65" fill="url(#dot)"/>
<circle cx="849.95" cy="231.87" r="4.65" fill="url(#dot)"/>
<circle cx="948.95" cy="231.87" r="4.65" fill="url(#dot)"/>
<circle cx="973.75" cy="231.87" r="4.65" fill="url(#dot)"/>
<text transform="translate(6.55,276.17) scale(0.850,1)" font-size="17" font-weight="bold" fill="#ffffff" stroke="#ffffff" stroke-width="0.45">B10D</text>
<text x="74.75" y="273.37" font-size="10.80" font-weight="normal" fill="#2a2a2a" text-anchor="middle" textLength="46.70" lengthAdjust="spacingAndGlyphs">151-29014</text>
<text x="104.60" y="273.90" font-size="12.15" font-weight="normal" fill="#4a4a4a" text-anchor="start" textLength="176.53" lengthAdjust="spacingAndGlyphs">Diamond-coated. B10 geometry.</text>
<circle cx="553.80" cy="270.27" r="4.65" fill="url(#dot)"/>
<circle cx="578.45" cy="270.27" r="4.65" fill="url(#dot)"/>
<circle cx="998.20" cy="270.27" r="4.65" fill="url(#dot)"/>
<text transform="translate(6.55,314.50) scale(0.850,1)" font-size="17" font-weight="bold" fill="#ffffff" stroke="#ffffff" stroke-width="0.45">B10L</text>
<text x="74.75" y="311.70" font-size="10.80" font-weight="normal" fill="#2a2a2a" text-anchor="middle" textLength="46.70" lengthAdjust="spacingAndGlyphs">151-29095</text>
<text x="104.60" y="312.50" font-size="12.15" font-weight="normal" fill="#4a4a4a" text-anchor="start" textLength="140.88" lengthAdjust="spacingAndGlyphs">B10 for left-handed users.</text>
<circle cx="553.80" cy="308.60" r="4.65" fill="url(#dot)"/>
<circle cx="578.45" cy="308.60" r="4.65" fill="url(#dot)"/>
<circle cx="801.05" cy="308.60" r="4.65" fill="url(#dot)"/>
<circle cx="825.50" cy="308.60" r="4.65" fill="url(#dot)"/>
<circle cx="849.95" cy="308.60" r="4.65" fill="url(#dot)"/>
<circle cx="973.75" cy="308.60" r="4.65" fill="url(#dot)"/>
<text transform="translate(6.55,352.80) scale(0.850,1)" font-size="17" font-weight="bold" fill="#ffffff" stroke="#ffffff" stroke-width="0.45">B10P</text>
<text x="74.75" y="350.00" font-size="10.80" font-weight="normal" fill="#2a2a2a" text-anchor="middle" textLength="46.70" lengthAdjust="spacingAndGlyphs">151-29015</text>
<text x="104.60" y="350.90" font-size="12.15" font-weight="normal" fill="#4a4a4a" text-anchor="start" textLength="303.59" lengthAdjust="spacingAndGlyphs">PVD TiN coated for high wear resistance. B10 geometry.</text>
<circle cx="553.80" cy="346.90" r="4.65" fill="url(#dot)"/>
<circle cx="578.45" cy="346.90" r="4.65" fill="url(#dot)"/>
<circle cx="801.05" cy="346.90" r="4.65" fill="url(#dot)"/>
<circle cx="825.50" cy="346.90" r="4.65" fill="url(#dot)"/>
<circle cx="849.95" cy="346.90" r="4.65" fill="url(#dot)"/>
<circle cx="924.45" cy="346.90" r="4.65" fill="url(#dot)"/>
<circle cx="973.75" cy="346.90" r="4.65" fill="url(#dot)"/>
<text transform="translate(6.55,391.27) scale(0.770,1)" font-size="17" font-weight="bold" fill="#ffffff" stroke="#ffffff" stroke-width="0.45">B10PL</text>
<text x="74.75" y="388.47" font-size="10.80" font-weight="normal" fill="#2a2a2a" text-anchor="middle" textLength="46.70" lengthAdjust="spacingAndGlyphs">151-29096</text>
<text x="104.60" y="389.50" font-size="12.15" font-weight="normal" fill="#4a4a4a" text-anchor="start" textLength="262.79" lengthAdjust="spacingAndGlyphs">B10 coated with PVD TiN. For left-handed users.</text>
<circle cx="553.80" cy="385.38" r="4.65" fill="url(#dot)"/>
<circle cx="578.45" cy="385.38" r="4.65" fill="url(#dot)"/>
<circle cx="801.05" cy="385.38" r="4.65" fill="url(#dot)"/>
<circle cx="825.50" cy="385.38" r="4.65" fill="url(#dot)"/>
<circle cx="849.95" cy="385.38" r="4.65" fill="url(#dot)"/>
<circle cx="924.45" cy="385.38" r="4.65" fill="url(#dot)"/>
<circle cx="973.75" cy="385.38" r="4.65" fill="url(#dot)"/>
<text transform="translate(6.55,429.58) scale(0.850,1)" font-size="17" font-weight="bold" fill="#ffffff" stroke="#ffffff" stroke-width="0.45">B10S</text>
<text x="74.75" y="426.78" font-size="10.80" font-weight="normal" fill="#2a2a2a" text-anchor="middle" textLength="46.70" lengthAdjust="spacingAndGlyphs">151-29210</text>
<text x="104.60" y="427.50" font-size="12.15" font-weight="normal" fill="#4a4a4a" text-anchor="start" textLength="242.87" lengthAdjust="spacingAndGlyphs">Long-lasting, cobalt-enriched. B10 geometry.</text>
<circle cx="553.80" cy="423.68" r="4.65" fill="url(#dot)"/>
<circle cx="578.45" cy="423.68" r="4.65" fill="url(#dot)"/>
<circle cx="801.05" cy="423.68" r="4.65" fill="url(#dot)"/>
<circle cx="825.50" cy="423.68" r="4.65" fill="url(#dot)"/>
<circle cx="849.95" cy="423.68" r="4.65" fill="url(#dot)"/>
<circle cx="924.45" cy="423.68" r="4.65" fill="url(#dot)"/>
<circle cx="973.75" cy="423.68" r="4.65" fill="url(#dot)"/>
<text transform="translate(6.55,467.73) scale(0.870,1)" font-size="17" font-weight="bold" fill="#ffffff" stroke="#ffffff" stroke-width="0.45">B11</text>
<text x="74.75" y="464.93" font-size="10.80" font-weight="normal" fill="#2a2a2a" text-anchor="middle" textLength="46.70" lengthAdjust="spacingAndGlyphs">151-29108</text>
<text x="104.60" y="458.80" font-size="12.15" font-weight="normal" fill="#4a4a4a" text-anchor="start" textLength="295.44" lengthAdjust="spacingAndGlyphs">Extra thin, HSS. Deburrs holes with min. diameter 0.08"</text>
<text x="104.60" y="473.60" font-size="12.15" font-weight="normal" fill="#4a4a4a" text-anchor="start" textLength="38.01" lengthAdjust="spacingAndGlyphs">(2mm).</text>
<circle cx="553.80" cy="461.83" r="4.65" fill="url(#dot)"/>
<circle cx="578.45" cy="461.83" r="4.65" fill="url(#dot)"/>
<circle cx="801.05" cy="461.83" r="4.65" fill="url(#dot)"/>
<circle cx="825.50" cy="461.83" r="4.65" fill="url(#dot)"/>
<circle cx="849.95" cy="461.83" r="4.65" fill="url(#dot)"/>
<circle cx="973.75" cy="461.83" r="4.65" fill="url(#dot)"/>
<text transform="translate(6.55,510.70) scale(0.850,1)" font-size="17" font-weight="bold" fill="#ffffff" stroke="#ffffff" stroke-width="0.45">B11P</text>
<text x="74.75" y="507.90" font-size="10.80" font-weight="normal" fill="#2a2a2a" text-anchor="middle" textLength="46.70" lengthAdjust="spacingAndGlyphs">151-00120</text>
<text x="104.60" y="509.75" font-size="12.15" font-weight="normal" fill="#4a4a4a" text-anchor="start" textLength="303.59" lengthAdjust="spacingAndGlyphs">PVD TiN coated for high wear resistance. B11 geometry.</text>
<circle cx="553.80" cy="505.65" r="4.65" fill="url(#dot)"/>
<circle cx="578.45" cy="505.65" r="4.65" fill="url(#dot)"/>
<circle cx="801.05" cy="505.65" r="4.65" fill="url(#dot)"/>
<circle cx="825.50" cy="505.65" r="4.65" fill="url(#dot)"/>
<circle cx="849.95" cy="505.65" r="4.65" fill="url(#dot)"/>
<circle cx="924.45" cy="505.65" r="4.65" fill="url(#dot)"/>
<circle cx="973.75" cy="505.65" r="4.65" fill="url(#dot)"/>
<text transform="translate(6.55,549.28) scale(0.850,1)" font-size="17" font-weight="bold" fill="#ffffff" stroke="#ffffff" stroke-width="0.45">B12</text>
<text x="74.75" y="546.48" font-size="10.80" font-weight="normal" fill="#2a2a2a" text-anchor="middle" textLength="46.70" lengthAdjust="spacingAndGlyphs">151-29016</text>
<text x="104.60" y="547.00" font-size="12.15" font-weight="normal" fill="#4a4a4a" text-anchor="start" textLength="102.32" lengthAdjust="spacingAndGlyphs">Short-nosed, HSS.</text>
<circle cx="553.80" cy="543.38" r="4.65" fill="url(#dot)"/>
<circle cx="578.45" cy="543.38" r="4.65" fill="url(#dot)"/>
<circle cx="801.05" cy="543.38" r="4.65" fill="url(#dot)"/>
<circle cx="825.50" cy="543.38" r="4.65" fill="url(#dot)"/>
<circle cx="849.95" cy="543.38" r="4.65" fill="url(#dot)"/>
<circle cx="973.75" cy="543.38" r="4.65" fill="url(#dot)"/>
<polygon points="433.60,538.38 435.04,542.29 439.21,542.45 435.93,545.03 437.07,549.05 433.60,546.73 430.13,549.05 431.27,545.03 427.99,542.45 432.16,542.29" fill="#d41e28"/>
<text transform="translate(6.55,588.10) scale(0.850,1)" font-size="17" font-weight="bold" fill="#ffffff" stroke="#ffffff" stroke-width="0.45">B12P</text>
<text x="74.75" y="585.30" font-size="10.80" font-weight="normal" fill="#2a2a2a" text-anchor="middle" textLength="46.70" lengthAdjust="spacingAndGlyphs">151-19017</text>
<text x="104.60" y="585.70" font-size="12.15" font-weight="normal" fill="#4a4a4a" text-anchor="start" textLength="295.41" lengthAdjust="spacingAndGlyphs">Short-nosed, PVD TiN coated for high wear resistance.</text>
<circle cx="553.80" cy="582.20" r="4.65" fill="url(#dot)"/>
<circle cx="578.45" cy="582.20" r="4.65" fill="url(#dot)"/>
<circle cx="801.05" cy="582.20" r="4.65" fill="url(#dot)"/>
<circle cx="825.50" cy="582.20" r="4.65" fill="url(#dot)"/>
<circle cx="849.95" cy="582.20" r="4.65" fill="url(#dot)"/>
<circle cx="924.45" cy="582.20" r="4.65" fill="url(#dot)"/>
<circle cx="973.75" cy="582.20" r="4.65" fill="url(#dot)"/>
<text transform="translate(6.55,626.50) scale(0.850,1)" font-size="17" font-weight="bold" fill="#ffffff" stroke="#ffffff" stroke-width="0.45">B20</text>
<text x="74.75" y="623.70" font-size="10.80" font-weight="normal" fill="#2a2a2a" text-anchor="middle" textLength="46.70" lengthAdjust="spacingAndGlyphs">151-19019</text>
<text x="104.60" y="624.20" font-size="12.15" font-weight="normal" fill="#4a4a4a" text-anchor="start" textLength="240.99" lengthAdjust="spacingAndGlyphs">HSS. Rotates clockwise &amp; counterclockwise.</text>
<circle cx="553.80" cy="620.60" r="4.65" fill="url(#dot)"/>
<circle cx="578.45" cy="620.60" r="4.65" fill="url(#dot)"/>
<circle cx="874.90" cy="620.60" r="4.65" fill="url(#dot)"/>
<circle cx="899.95" cy="620.60" r="4.65" fill="url(#dot)"/>
<circle cx="973.75" cy="620.60" r="4.65" fill="url(#dot)"/>
<polygon points="433.60,615.60 435.04,619.52 439.21,619.68 435.93,622.26 437.07,626.27 433.60,623.95 430.13,626.27 431.27,622.26 427.99,619.68 432.16,619.52" fill="#d41e28"/>
<text transform="translate(6.55,664.65) scale(0.850,1)" font-size="17" font-weight="bold" fill="#ffffff" stroke="#ffffff" stroke-width="0.45">B20C</text>
<text x="74.75" y="661.85" font-size="10.80" font-weight="normal" fill="#2a2a2a" text-anchor="middle" textLength="46.70" lengthAdjust="spacingAndGlyphs">151-19020</text>
<text x="104.60" y="662.40" font-size="12.15" font-weight="normal" fill="#4a4a4a" text-anchor="start" textLength="285.93" lengthAdjust="spacingAndGlyphs">Solid carbide. Rotates clockwise &amp; counterclockwise.</text>
<circle cx="553.80" cy="658.75" r="4.65" fill="url(#dot)"/>
<circle cx="578.45" cy="658.75" r="4.65" fill="url(#dot)"/>
<circle cx="874.90" cy="658.75" r="4.65" fill="url(#dot)"/>
<circle cx="899.95" cy="658.75" r="4.65" fill="url(#dot)"/>
<circle cx="924.45" cy="658.75" r="4.65" fill="url(#dot)"/>
<circle cx="973.75" cy="658.75" r="4.65" fill="url(#dot)"/>
<text transform="translate(6.55,703.35) scale(0.850,1)" font-size="17" font-weight="bold" fill="#ffffff" stroke="#ffffff" stroke-width="0.45">B20P</text>
<text x="74.75" y="700.55" font-size="10.80" font-weight="normal" fill="#2a2a2a" text-anchor="middle" textLength="46.70" lengthAdjust="spacingAndGlyphs">151-29021</text>
<text x="104.60" y="693.70" font-size="12.15" font-weight="normal" fill="#4a4a4a" text-anchor="start" textLength="265.60" lengthAdjust="spacingAndGlyphs">PVD TiN coated for high wear resistance. Rotates</text>
<text x="104.60" y="708.10" font-size="12.15" font-weight="normal" fill="#4a4a4a" text-anchor="start" textLength="164.00" lengthAdjust="spacingAndGlyphs">clockwise &amp; counterclockwise.</text>
<circle cx="553.80" cy="697.45" r="4.65" fill="url(#dot)"/>
<circle cx="578.45" cy="697.45" r="4.65" fill="url(#dot)"/>
<circle cx="874.90" cy="697.45" r="4.65" fill="url(#dot)"/>
<circle cx="899.95" cy="697.45" r="4.65" fill="url(#dot)"/>
<circle cx="924.45" cy="697.45" r="4.65" fill="url(#dot)"/>
<circle cx="973.75" cy="697.45" r="4.65" fill="url(#dot)"/>
<text transform="translate(6.55,741.72) scale(0.850,1)" font-size="17" font-weight="bold" fill="#ffffff" stroke="#ffffff" stroke-width="0.45">B25</text>
<text x="74.75" y="738.92" font-size="10.80" font-weight="normal" fill="#2a2a2a" text-anchor="middle" textLength="46.70" lengthAdjust="spacingAndGlyphs">151-29022</text>
<text x="104.60" y="739.20" font-size="12.15" font-weight="normal" fill="#4a4a4a" text-anchor="start" textLength="232.81" lengthAdjust="spacingAndGlyphs">Thin-nosed. Specially designed for plastics.</text>
<circle cx="553.80" cy="735.82" r="4.65" fill="url(#dot)"/>
<circle cx="578.45" cy="735.82" r="4.65" fill="url(#dot)"/>
<circle cx="801.05" cy="735.82" r="4.65" fill="url(#dot)"/>
<circle cx="825.50" cy="735.82" r="4.65" fill="url(#dot)"/>
<circle cx="849.95" cy="735.82" r="4.65" fill="url(#dot)"/>
<circle cx="973.75" cy="735.82" r="4.65" fill="url(#dot)"/>
<text transform="translate(6.55,779.77) scale(0.850,1)" font-size="17" font-weight="bold" fill="#ffffff" stroke="#ffffff" stroke-width="0.45">B25C</text>
<text x="74.75" y="776.98" font-size="10.80" font-weight="normal" fill="#2a2a2a" text-anchor="middle" textLength="46.70" lengthAdjust="spacingAndGlyphs">151-29110</text>
<text x="104.60" y="770.50" font-size="12.15" font-weight="normal" fill="#4a4a4a" text-anchor="start" textLength="306.50" lengthAdjust="spacingAndGlyphs">Solid carbide, thin-nosed. Specially designed for abrasive</text>
<text x="104.60" y="784.30" font-size="12.15" font-weight="normal" fill="#4a4a4a" text-anchor="start" textLength="44.07" lengthAdjust="spacingAndGlyphs">plastics.</text>
<circle cx="553.80" cy="773.88" r="4.65" fill="url(#dot)"/>
<circle cx="578.45" cy="773.88" r="4.65" fill="url(#dot)"/>
<circle cx="801.05" cy="773.88" r="4.65" fill="url(#dot)"/>
<circle cx="825.50" cy="773.88" r="4.65" fill="url(#dot)"/>
<circle cx="849.95" cy="773.88" r="4.65" fill="url(#dot)"/>
<circle cx="973.75" cy="773.88" r="4.65" fill="url(#dot)"/>
<text transform="translate(6.55,818.35) scale(0.850,1)" font-size="17" font-weight="bold" fill="#ffffff" stroke="#ffffff" stroke-width="0.45">B30</text>
<text x="74.75" y="815.55" font-size="10.80" font-weight="normal" fill="#2a2a2a" text-anchor="middle" textLength="46.70" lengthAdjust="spacingAndGlyphs">151-29023</text>
<text x="104.60" y="809.20" font-size="12.15" font-weight="normal" fill="#4a4a4a" text-anchor="start" textLength="309.83" lengthAdjust="spacingAndGlyphs">Simultaneously deburrs the inside and outside of holes up</text>
<text x="104.60" y="823.60" font-size="12.15" font-weight="normal" fill="#4a4a4a" text-anchor="start" textLength="116.72" lengthAdjust="spacingAndGlyphs">to 0.16" (4 mm) thick.</text>
<circle cx="627.85" cy="812.45" r="4.65" fill="url(#dot)"/>
<circle cx="801.05" cy="812.45" r="4.65" fill="url(#dot)"/>
<circle cx="825.50" cy="812.45" r="4.65" fill="url(#dot)"/>
<circle cx="849.95" cy="812.45" r="4.65" fill="url(#dot)"/>
<circle cx="973.75" cy="812.45" r="4.65" fill="url(#dot)"/>
<polygon points="433.60,807.45 435.04,811.37 439.21,811.53 435.93,814.11 437.07,818.12 433.60,815.80 430.13,818.12 431.27,814.11 427.99,811.53 432.16,811.37" fill="#d41e28"/>
<text transform="translate(6.55,856.80) scale(0.850,1)" font-size="17" font-weight="bold" fill="#ffffff" stroke="#ffffff" stroke-width="0.45">B30P</text>
<text x="74.75" y="854.00" font-size="10.80" font-weight="normal" fill="#2a2a2a" text-anchor="middle" textLength="46.70" lengthAdjust="spacingAndGlyphs">151-29024</text>
<text x="104.60" y="854.10" font-size="12.15" font-weight="normal" fill="#4a4a4a" text-anchor="start" textLength="303.59" lengthAdjust="spacingAndGlyphs">PVD TiN coated for high wear resistance. B30 geometry.</text>
<circle cx="627.85" cy="850.90" r="4.65" fill="url(#dot)"/>
<circle cx="801.05" cy="850.90" r="4.65" fill="url(#dot)"/>
<circle cx="825.50" cy="850.90" r="4.65" fill="url(#dot)"/>
<circle cx="924.45" cy="850.90" r="4.65" fill="url(#dot)"/>
<circle cx="973.75" cy="850.90" r="4.65" fill="url(#dot)"/>
<text transform="translate(6.55,894.85) scale(0.850,1)" font-size="17" font-weight="bold" fill="#ffffff" stroke="#ffffff" stroke-width="0.45">B32</text>
<text x="74.75" y="892.05" font-size="10.80" font-weight="normal" fill="#2a2a2a" text-anchor="middle" textLength="46.70" lengthAdjust="spacingAndGlyphs">151-29025</text>
<text x="104.60" y="893.00" font-size="12.15" font-weight="normal" fill="#4a4a4a" text-anchor="start" textLength="291.25" lengthAdjust="spacingAndGlyphs">Rotates clockwise &amp; counterclockwise. B30 geometry.</text>
<circle cx="627.85" cy="888.95" r="4.65" fill="url(#dot)"/>
<circle cx="874.90" cy="888.95" r="4.65" fill="url(#dot)"/>
<circle cx="899.95" cy="888.95" r="4.65" fill="url(#dot)"/>
<circle cx="973.75" cy="888.95" r="4.65" fill="url(#dot)"/>
<text transform="translate(6.55,933.00) scale(0.850,1)" font-size="17" font-weight="bold" fill="#ffffff" stroke="#ffffff" stroke-width="0.45">B50C</text>
<text x="74.75" y="930.20" font-size="10.80" font-weight="normal" fill="#2a2a2a" text-anchor="middle" textLength="46.70" lengthAdjust="spacingAndGlyphs">151-29026</text>
<text x="104.60" y="931.10" font-size="12.15" font-weight="normal" fill="#4a4a4a" text-anchor="start" textLength="220.09" lengthAdjust="spacingAndGlyphs">Carbide tipped scriber. Can be reground.</text>
<circle cx="701.90" cy="927.10" r="4.65" fill="url(#dot)"/>
<circle cx="801.05" cy="927.10" r="4.65" fill="url(#dot)"/>
<circle cx="825.50" cy="927.10" r="4.65" fill="url(#dot)"/>
<circle cx="849.95" cy="927.10" r="4.65" fill="url(#dot)"/>
<circle cx="874.90" cy="927.10" r="4.65" fill="url(#dot)"/>
<circle cx="899.95" cy="927.10" r="4.65" fill="url(#dot)"/>
<circle cx="924.45" cy="927.10" r="4.65" fill="url(#dot)"/>
<circle cx="948.95" cy="927.10" r="4.65" fill="url(#dot)"/>
<circle cx="973.75" cy="927.10" r="4.65" fill="url(#dot)"/>
<text transform="translate(6.55,971.42) scale(0.850,1)" font-size="17" font-weight="bold" fill="#ffffff" stroke="#ffffff" stroke-width="0.45">B60</text>
<text x="74.75" y="968.62" font-size="10.80" font-weight="normal" fill="#2a2a2a" text-anchor="middle" textLength="46.70" lengthAdjust="spacingAndGlyphs">151-29027</text>
<text x="104.60" y="962.40" font-size="12.15" font-weight="normal" fill="#4a4a4a" text-anchor="start" textLength="310.34" lengthAdjust="spacingAndGlyphs">HSS. Removes burrs from back edge of holes up to 0.78"</text>
<text x="104.60" y="976.90" font-size="12.15" font-weight="normal" fill="#4a4a4a" text-anchor="start" textLength="76.36" lengthAdjust="spacingAndGlyphs">(20 mm) thick.</text>
<circle cx="652.38" cy="965.52" r="4.65" fill="url(#dot)"/>
<circle cx="801.05" cy="965.52" r="4.65" fill="url(#dot)"/>
<circle cx="825.50" cy="965.52" r="4.65" fill="url(#dot)"/>
<circle cx="849.95" cy="965.52" r="4.65" fill="url(#dot)"/>
<circle cx="973.75" cy="965.52" r="4.65" fill="url(#dot)"/>
<text transform="translate(6.55,1009.98) scale(0.850,1)" font-size="17" font-weight="bold" fill="#ffffff" stroke="#ffffff" stroke-width="0.45">B70</text>
<text x="74.75" y="1007.18" font-size="10.80" font-weight="normal" fill="#2a2a2a" text-anchor="middle" textLength="46.70" lengthAdjust="spacingAndGlyphs">151-29028</text>
<text x="104.60" y="1000.50" font-size="12.15" font-weight="normal" fill="#4a4a4a" text-anchor="start" textLength="256.77" lengthAdjust="spacingAndGlyphs">Carbide tipped. Deburrs sheetmetal up to 0.14"</text>
<text x="104.60" y="1015.40" font-size="12.15" font-weight="normal" fill="#4a4a4a" text-anchor="start" textLength="80.46" lengthAdjust="spacingAndGlyphs">(3.5 mm) thick.</text>
<circle cx="726.60" cy="1004.08" r="4.65" fill="url(#dot)"/>
<circle cx="801.05" cy="1004.08" r="4.65" fill="url(#dot)"/>
<circle cx="825.50" cy="1004.08" r="4.65" fill="url(#dot)"/>
<circle cx="849.95" cy="1004.08" r="4.65" fill="url(#dot)"/>
<circle cx="874.90" cy="1004.08" r="4.65" fill="url(#dot)"/>
<circle cx="899.95" cy="1004.08" r="4.65" fill="url(#dot)"/>
<circle cx="924.45" cy="1004.08" r="4.65" fill="url(#dot)"/>
<circle cx="948.95" cy="1004.08" r="4.65" fill="url(#dot)"/>
<circle cx="973.75" cy="1004.08" r="4.65" fill="url(#dot)"/>
<linearGradient id="g1" gradientUnits="userSpaceOnUse" x1="0" y1="0" x2="55.60" y2="0"><stop offset="0.000" stop-color="#a8aca8"/><stop offset="0.200" stop-color="#c8c8c8"/><stop offset="0.450" stop-color="#b4b4b4"/><stop offset="0.600" stop-color="#a4a4a4"/><stop offset="1.000" stop-color="#acacac"/></linearGradient>
<g transform="translate(446.82,103.90) scale(1.1328,1.1639)" fill="none" stroke-linecap="round" stroke-linejoin="round">
<path d="M0,0 C5,0 9.5,1 13.5,4.5 C17.5,8 21,14.5 24.5,16.6 C26.5,17.8 28,18.3 31,18.3" stroke="url(#g1)" stroke-width="5.00" vector-effect="non-scaling-stroke"/>
<path d="M28.5,18.3 L40.8,18.3" stroke="url(#g1)" stroke-width="5.50" stroke-linecap="butt" vector-effect="non-scaling-stroke"/>
<path d="M40.8,18.3 L41.8,18.3" stroke="url(#g1)" stroke-width="4.60" stroke-linecap="butt" vector-effect="non-scaling-stroke"/>
<path d="M41.8,18.3 L44.4,18.3" stroke="url(#g1)" stroke-width="3.50" stroke-linecap="butt" vector-effect="non-scaling-stroke"/>
<path d="M44.4,18.3 L45.4,18.3" stroke="url(#g1)" stroke-width="4.50" stroke-linecap="butt" vector-effect="non-scaling-stroke"/>
<path d="M45.4,18.3 L53,18.3" stroke="url(#g1)" stroke-width="5.30" stroke-linecap="butt" vector-effect="non-scaling-stroke"/>
<path d="M53,18.3 l0.01,0" stroke="url(#g1)" stroke-width="5.30" stroke-linecap="round" vector-effect="non-scaling-stroke"/>
<path d="M0,0 C5,0 9.5,1 13.5,4.5 C17.5,8 21,14.5 24.5,16.6 C26.5,17.8 28,18.3 31,18.3" stroke="#ffffff" stroke-width="1.50" opacity="0.22" transform="translate(0,-0.95)" vector-effect="non-scaling-stroke"/>
<path d="M30,17.18 L40.5,17.18 M45.5,17.18 L52,17.18" stroke="#ffffff" stroke-width="1.20" opacity="0.22" vector-effect="non-scaling-stroke"/>
</g>
<linearGradient id="g2" gradientUnits="userSpaceOnUse" x1="0" y1="0" x2="55.60" y2="0"><stop offset="0.000" stop-color="#5a4a42"/><stop offset="0.080" stop-color="#8a7e72"/><stop offset="0.300" stop-color="#857868"/><stop offset="0.500" stop-color="#50423a"/><stop offset="1.000" stop-color="#3a2e2a"/></linearGradient>
<g transform="translate(451.45,141.90) scale(0.9379,1.0219)" fill="none" stroke-linecap="round" stroke-linejoin="round">
<path d="M0,0 C5,0 9.5,1 13.5,4.5 C17.5,8 21,14.5 24.5,16.6 C26.5,17.8 28,18.3 31,18.3" stroke="url(#g2)" stroke-width="4.60" vector-effect="non-scaling-stroke"/>
<path d="M28.5,18.3 L40.8,18.3" stroke="url(#g2)" stroke-width="5.50" stroke-linecap="butt" vector-effect="non-scaling-stroke"/>
<path d="M40.8,18.3 L41.8,18.3" stroke="url(#g2)" stroke-width="4.60" stroke-linecap="butt" vector-effect="non-scaling-stroke"/>
<path d="M41.8,18.3 L44.4,18.3" stroke="url(#g2)" stroke-width="3.50" stroke-linecap="butt" vector-effect="non-scaling-stroke"/>
<path d="M44.4,18.3 L45.4,18.3" stroke="url(#g2)" stroke-width="4.50" stroke-linecap="butt" vector-effect="non-scaling-stroke"/>
<path d="M45.4,18.3 L53,18.3" stroke="url(#g2)" stroke-width="5.30" stroke-linecap="butt" vector-effect="non-scaling-stroke"/>
<path d="M53,18.3 l0.01,0" stroke="url(#g2)" stroke-width="5.30" stroke-linecap="round" vector-effect="non-scaling-stroke"/>
<path d="M0,0 C5,0 9.5,1 13.5,4.5 C17.5,8 21,14.5 24.5,16.6 C26.5,17.8 28,18.3 31,18.3" stroke="#ffffff" stroke-width="1.38" opacity="0.22" transform="translate(0,-0.99)" vector-effect="non-scaling-stroke"/>
<path d="M30,17.03 L40.5,17.03 M45.5,17.03 L52,17.03" stroke="#ffffff" stroke-width="1.20" opacity="0.22" vector-effect="non-scaling-stroke"/>
</g>
<linearGradient id="g3" gradientUnits="userSpaceOnUse" x1="0" y1="0" x2="55.60" y2="0"><stop offset="0.000" stop-color="#303030"/><stop offset="0.060" stop-color="#505050"/><stop offset="0.120" stop-color="#c4c4c4"/><stop offset="0.420" stop-color="#b0b0b0"/><stop offset="0.500" stop-color="#282828"/><stop offset="1.000" stop-color="#222222"/></linearGradient>
<g transform="translate(451.14,182.10) scale(0.9741,1.0546)" fill="none" stroke-linecap="round" stroke-linejoin="round">
<path d="M0,0 C5,0 9.5,1 13.5,4.5 C17.5,8 21,14.5 24.5,16.6 C26.5,17.8 28,18.3 31,18.3" stroke="url(#g3)" stroke-width="4.60" vector-effect="non-scaling-stroke"/>
<path d="M28.5,18.3 L40.8,18.3" stroke="url(#g3)" stroke-width="5.50" stroke-linecap="butt" vector-effect="non-scaling-stroke"/>
<path d="M40.8,18.3 L41.8,18.3" stroke="url(#g3)" stroke-width="4.60" stroke-linecap="butt" vector-effect="non-scaling-stroke"/>
<path d="M41.8,18.3 L44.4,18.3" stroke="url(#g3)" stroke-width="3.50" stroke-linecap="butt" vector-effect="non-scaling-stroke"/>
<path d="M44.4,18.3 L45.4,18.3" stroke="url(#g3)" stroke-width="4.50" stroke-linecap="butt" vector-effect="non-scaling-stroke"/>
<path d="M45.4,18.3 L53,18.3" stroke="url(#g3)" stroke-width="5.30" stroke-linecap="butt" vector-effect="non-scaling-stroke"/>
<path d="M53,18.3 l0.01,0" stroke="url(#g3)" stroke-width="5.30" stroke-linecap="round" vector-effect="non-scaling-stroke"/>
<path d="M0,0 C5,0 9.5,1 13.5,4.5 C17.5,8 21,14.5 24.5,16.6 C26.5,17.8 28,18.3 31,18.3" stroke="#ffffff" stroke-width="1.38" opacity="0.22" transform="translate(0,-0.96)" vector-effect="non-scaling-stroke"/>
<path d="M30,17.07 L40.5,17.07 M45.5,17.07 L52,17.07" stroke="#ffffff" stroke-width="1.20" opacity="0.22" vector-effect="non-scaling-stroke"/>
</g>
<linearGradient id="g4" gradientUnits="userSpaceOnUse" x1="0" y1="0" x2="55.60" y2="0"><stop offset="0.000" stop-color="#4a4a4a"/><stop offset="0.300" stop-color="#5e5e5e"/><stop offset="0.600" stop-color="#555555"/><stop offset="1.000" stop-color="#4a4a4a"/></linearGradient>
<g transform="translate(451.88,221.00) scale(0.9086,1.0000)" fill="none" stroke-linecap="round" stroke-linejoin="round">
<path d="M0,0 C5,0 9.5,1 13.5,4.5 C17.5,8 21,14.5 24.5,16.6 C26.5,17.8 28,18.3 31,18.3" stroke="url(#g4)" stroke-width="4.60" vector-effect="non-scaling-stroke"/>
<path d="M28.5,18.3 L40.8,18.3" stroke="url(#g4)" stroke-width="5.50" stroke-linecap="butt" vector-effect="non-scaling-stroke"/>
<path d="M40.8,18.3 L41.8,18.3" stroke="url(#g4)" stroke-width="4.60" stroke-linecap="butt" vector-effect="non-scaling-stroke"/>
<path d="M41.8,18.3 L44.4,18.3" stroke="url(#g4)" stroke-width="3.50" stroke-linecap="butt" vector-effect="non-scaling-stroke"/>
<path d="M44.4,18.3 L45.4,18.3" stroke="url(#g4)" stroke-width="4.50" stroke-linecap="butt" vector-effect="non-scaling-stroke"/>
<path d="M45.4,18.3 L53,18.3" stroke="url(#g4)" stroke-width="5.30" stroke-linecap="butt" vector-effect="non-scaling-stroke"/>
<path d="M53,18.3 l0.01,0" stroke="url(#g4)" stroke-width="5.30" stroke-linecap="round" vector-effect="non-scaling-stroke"/>
<path d="M0,0 C5,0 9.5,1 13.5,4.5 C17.5,8 21,14.5 24.5,16.6 C26.5,17.8 28,18.3 31,18.3" stroke="#ffffff" stroke-width="1.38" opacity="0.22" transform="translate(0,-1.01)" vector-effect="non-scaling-stroke"/>
<path d="M30,17.00 L40.5,17.00 M45.5,17.00 L52,17.00" stroke="#ffffff" stroke-width="1.20" opacity="0.22" vector-effect="non-scaling-stroke"/>
</g>
<linearGradient id="g5" gradientUnits="userSpaceOnUse" x1="0" y1="0" x2="55.60" y2="0"><stop offset="0.000" stop-color="#8a8080"/><stop offset="0.400" stop-color="#8a8282"/><stop offset="0.520" stop-color="#9a9090"/><stop offset="0.600" stop-color="#c0b8b8"/><stop offset="1.000" stop-color="#b8b0b0"/></linearGradient>
<g transform="translate(450.99,258.60) scale(0.9966,1.1475)" fill="none" stroke-linecap="round" stroke-linejoin="round">
<path d="M0,0 C5,0 9.5,1 13.5,4.5 C17.5,8 21,14.5 24.5,16.6 C26.5,17.8 28,18.3 31,18.3" stroke="url(#g5)" stroke-width="4.60" vector-effect="non-scaling-stroke"/>
<path d="M28.5,18.3 L40.8,18.3" stroke="url(#g5)" stroke-width="5.50" stroke-linecap="butt" vector-effect="non-scaling-stroke"/>
<path d="M40.8,18.3 L41.8,18.3" stroke="url(#g5)" stroke-width="4.60" stroke-linecap="butt" vector-effect="non-scaling-stroke"/>
<path d="M41.8,18.3 L44.4,18.3" stroke="url(#g5)" stroke-width="3.50" stroke-linecap="butt" vector-effect="non-scaling-stroke"/>
<path d="M44.4,18.3 L45.4,18.3" stroke="url(#g5)" stroke-width="4.50" stroke-linecap="butt" vector-effect="non-scaling-stroke"/>
<path d="M45.4,18.3 L53,18.3" stroke="url(#g5)" stroke-width="5.30" stroke-linecap="butt" vector-effect="non-scaling-stroke"/>
<path d="M53,18.3 l0.01,0" stroke="url(#g5)" stroke-width="5.30" stroke-linecap="round" vector-effect="non-scaling-stroke"/>
<path d="M0,0 C5,0 9.5,1 13.5,4.5 C17.5,8 21,14.5 24.5,16.6 C26.5,17.8 28,18.3 31,18.3" stroke="#ffffff" stroke-width="1.38" opacity="0.22" transform="translate(0,-0.88)" vector-effect="non-scaling-stroke"/>
<path d="M30,17.17 L40.5,17.17 M45.5,17.17 L52,17.17" stroke="#ffffff" stroke-width="1.20" opacity="0.22" vector-effect="non-scaling-stroke"/>
</g>
<linearGradient id="g6" gradientUnits="userSpaceOnUse" x1="0" y1="0" x2="55.60" y2="0"><stop offset="0.000" stop-color="#303030"/><stop offset="0.060" stop-color="#505050"/><stop offset="0.120" stop-color="#c4c4c4"/><stop offset="0.420" stop-color="#b0b0b0"/><stop offset="0.500" stop-color="#282828"/><stop offset="1.000" stop-color="#222222"/></linearGradient>
<g transform="translate(499.34,300.00) scale(-0.8155,0.8634)" fill="none" stroke-linecap="round" stroke-linejoin="round">
<path d="M0,0 C5,0 9.5,1 13.5,4.5 C17.5,8 21,14.5 24.5,16.6 C26.5,17.8 28,18.3 31,18.3" stroke="url(#g6)" stroke-width="4.60" vector-effect="non-scaling-stroke"/>
<path d="M28.5,18.3 L40.8,18.3" stroke="url(#g6)" stroke-width="5.50" stroke-linecap="butt" vector-effect="non-scaling-stroke"/>
<path d="M40.8,18.3 L41.8,18.3" stroke="url(#g6)" stroke-width="4.60" stroke-linecap="butt" vector-effect="non-scaling-stroke"/>
<path d="M41.8,18.3 L44.4,18.3" stroke="url(#g6)" stroke-width="3.50" stroke-linecap="butt" vector-effect="non-scaling-stroke"/>
<path d="M44.4,18.3 L45.4,18.3" stroke="url(#g6)" stroke-width="4.50" stroke-linecap="butt" vector-effect="non-scaling-stroke"/>
<path d="M45.4,18.3 L53,18.3" stroke="url(#g6)" stroke-width="5.30" stroke-linecap="butt" vector-effect="non-scaling-stroke"/>
<path d="M53,18.3 l0.01,0" stroke="url(#g6)" stroke-width="5.30" stroke-linecap="round" vector-effect="non-scaling-stroke"/>
<path d="M0,0 C5,0 9.5,1 13.5,4.5 C17.5,8 21,14.5 24.5,16.6 C26.5,17.8 28,18.3 31,18.3" stroke="#ffffff" stroke-width="1.38" opacity="0.22" transform="translate(0,-1.17)" vector-effect="non-scaling-stroke"/>
<path d="M30,16.79 L40.5,16.79 M45.5,16.79 L52,16.79" stroke="#ffffff" stroke-width="1.20" opacity="0.22" vector-effect="non-scaling-stroke"/>
</g>
<linearGradient id="g7" gradientUnits="userSpaceOnUse" x1="0" y1="0" x2="55.60" y2="0"><stop offset="0.000" stop-color="#c89858"/><stop offset="0.100" stop-color="#ddb070"/><stop offset="0.400" stop-color="#c8903c"/><stop offset="0.500" stop-color="#a87838"/><stop offset="0.540" stop-color="#b0aaa4"/><stop offset="0.700" stop-color="#c4c4c4"/><stop offset="0.760" stop-color="#808080"/><stop offset="0.800" stop-color="#bdbdbd"/><stop offset="1.000" stop-color="#a0a0a0"/></linearGradient>
<g transform="translate(451.57,334.50) scale(0.9862,1.1148)" fill="none" stroke-linecap="round" stroke-linejoin="round">
<path d="M0,0 C5,0 9.5,1 13.5,4.5 C17.5,8 21,14.5 24.5,16.6 C26.5,17.8 28,18.3 31,18.3" stroke="url(#g7)" stroke-width="4.60" vector-effect="non-scaling-stroke"/>
<path d="M28.5,18.3 L40.8,18.3" stroke="url(#g7)" stroke-width="5.50" stroke-linecap="butt" vector-effect="non-scaling-stroke"/>
<path d="M40.8,18.3 L41.8,18.3" stroke="url(#g7)" stroke-width="4.60" stroke-linecap="butt" vector-effect="non-scaling-stroke"/>
<path d="M41.8,18.3 L44.4,18.3" stroke="url(#g7)" stroke-width="3.50" stroke-linecap="butt" vector-effect="non-scaling-stroke"/>
<path d="M44.4,18.3 L45.4,18.3" stroke="url(#g7)" stroke-width="4.50" stroke-linecap="butt" vector-effect="non-scaling-stroke"/>
<path d="M45.4,18.3 L53,18.3" stroke="url(#g7)" stroke-width="5.30" stroke-linecap="butt" vector-effect="non-scaling-stroke"/>
<path d="M53,18.3 l0.01,0" stroke="url(#g7)" stroke-width="5.30" stroke-linecap="round" vector-effect="non-scaling-stroke"/>
<path d="M0,0 C5,0 9.5,1 13.5,4.5 C17.5,8 21,14.5 24.5,16.6 C26.5,17.8 28,18.3 31,18.3" stroke="#ffffff" stroke-width="1.38" opacity="0.22" transform="translate(0,-0.91)" vector-effect="non-scaling-stroke"/>
<path d="M30,17.13 L40.5,17.13 M45.5,17.13 L52,17.13" stroke="#ffffff" stroke-width="1.20" opacity="0.22" vector-effect="non-scaling-stroke"/>
</g>
<linearGradient id="g8" gradientUnits="userSpaceOnUse" x1="0" y1="0" x2="55.60" y2="0"><stop offset="0.000" stop-color="#c89858"/><stop offset="0.100" stop-color="#ddb070"/><stop offset="0.400" stop-color="#c8903c"/><stop offset="0.500" stop-color="#a87838"/><stop offset="0.540" stop-color="#b0aaa4"/><stop offset="0.700" stop-color="#c4c4c4"/><stop offset="0.760" stop-color="#808080"/><stop offset="0.800" stop-color="#bdbdbd"/><stop offset="1.000" stop-color="#a0a0a0"/></linearGradient>
<g transform="translate(502.42,373.60) scale(-0.9517,1.0219)" fill="none" stroke-linecap="round" stroke-linejoin="round">
<path d="M0,0 C5,0 9.5,1 13.5,4.5 C17.5,8 21,14.5 24.5,16.6 C26.5,17.8 28,18.3 31,18.3" stroke="url(#g8)" stroke-width="4.60" vector-effect="non-scaling-stroke"/>
<path d="M28.5,18.3 L40.8,18.3" stroke="url(#g8)" stroke-width="5.50" stroke-linecap="butt" vector-effect="non-scaling-stroke"/>
<path d="M40.8,18.3 L41.8,18.3" stroke="url(#g8)" stroke-width="4.60" stroke-linecap="butt" vector-effect="non-scaling-stroke"/>
<path d="M41.8,18.3 L44.4,18.3" stroke="url(#g8)" stroke-width="3.50" stroke-linecap="butt" vector-effect="non-scaling-stroke"/>
<path d="M44.4,18.3 L45.4,18.3" stroke="url(#g8)" stroke-width="4.50" stroke-linecap="butt" vector-effect="non-scaling-stroke"/>
<path d="M45.4,18.3 L53,18.3" stroke="url(#g8)" stroke-width="5.30" stroke-linecap="butt" vector-effect="non-scaling-stroke"/>
<path d="M53,18.3 l0.01,0" stroke="url(#g8)" stroke-width="5.30" stroke-linecap="round" vector-effect="non-scaling-stroke"/>
<path d="M0,0 C5,0 9.5,1 13.5,4.5 C17.5,8 21,14.5 24.5,16.6 C26.5,17.8 28,18.3 31,18.3" stroke="#ffffff" stroke-width="1.38" opacity="0.22" transform="translate(0,-0.99)" vector-effect="non-scaling-stroke"/>
<path d="M30,17.03 L40.5,17.03 M45.5,17.03 L52,17.03" stroke="#ffffff" stroke-width="1.20" opacity="0.22" vector-effect="non-scaling-stroke"/>
</g>
<linearGradient id="g9" gradientUnits="userSpaceOnUse" x1="0" y1="0" x2="55.60" y2="0"><stop offset="0.000" stop-color="#b0b4b0"/><stop offset="0.300" stop-color="#d0d0d0"/><stop offset="0.500" stop-color="#b8b8b8"/><stop offset="1.000" stop-color="#b0b0b0"/></linearGradient>
<g transform="translate(449.72,409.90) scale(1.0500,1.1093)" fill="none" stroke-linecap="round" stroke-linejoin="round">
<path d="M0,0 C5,0 9.5,1 13.5,4.5 C17.5,8 21,14.5 24.5,16.6 C26.5,17.8 28,18.3 31,18.3" stroke="url(#g9)" stroke-width="4.60" vector-effect="non-scaling-stroke"/>
<path d="M28.5,18.3 L40.8,18.3" stroke="url(#g9)" stroke-width="5.50" stroke-linecap="butt" vector-effect="non-scaling-stroke"/>
<path d="M40.8,18.3 L41.8,18.3" stroke="url(#g9)" stroke-width="4.60" stroke-linecap="butt" vector-effect="non-scaling-stroke"/>
<path d="M41.8,18.3 L44.4,18.3" stroke="url(#g9)" stroke-width="3.50" stroke-linecap="butt" vector-effect="non-scaling-stroke"/>
<path d="M44.4,18.3 L45.4,18.3" stroke="url(#g9)" stroke-width="4.50" stroke-linecap="butt" vector-effect="non-scaling-stroke"/>
<path d="M45.4,18.3 L53,18.3" stroke="url(#g9)" stroke-width="5.30" stroke-linecap="butt" vector-effect="non-scaling-stroke"/>
<path d="M53,18.3 l0.01,0" stroke="url(#g9)" stroke-width="5.30" stroke-linecap="round" vector-effect="non-scaling-stroke"/>
<path d="M0,0 C5,0 9.5,1 13.5,4.5 C17.5,8 21,14.5 24.5,16.6 C26.5,17.8 28,18.3 31,18.3" stroke="#ffffff" stroke-width="1.38" opacity="0.22" transform="translate(0,-0.91)" vector-effect="non-scaling-stroke"/>
<path d="M30,17.13 L40.5,17.13 M45.5,17.13 L52,17.13" stroke="#ffffff" stroke-width="1.20" opacity="0.22" vector-effect="non-scaling-stroke"/>
</g>
<linearGradient id="g10" gradientUnits="userSpaceOnUse" x1="0" y1="0" x2="55.60" y2="0"><stop offset="0.000" stop-color="#303030"/><stop offset="0.060" stop-color="#505050"/><stop offset="0.120" stop-color="#c4c4c4"/><stop offset="0.420" stop-color="#b0b0b0"/><stop offset="0.500" stop-color="#282828"/><stop offset="1.000" stop-color="#222222"/></linearGradient>
<g transform="translate(458.52,447.60) scale(0.7586,1.3279)" fill="none" stroke-linecap="round" stroke-linejoin="round">
<path d="M0,0 C5,0 9.5,1 13.5,4.5 C17.5,8 21,14.5 24.5,16.6 C26.5,17.8 28,18.3 31,18.3" stroke="url(#g10)" stroke-width="3.40" vector-effect="non-scaling-stroke"/>
<path d="M28.5,18.3 L40.8,18.3" stroke="url(#g10)" stroke-width="5.50" stroke-linecap="butt" vector-effect="non-scaling-stroke"/>
<path d="M40.8,18.3 L41.8,18.3" stroke="url(#g10)" stroke-width="4.60" stroke-linecap="butt" vector-effect="non-scaling-stroke"/>
<path d="M41.8,18.3 L44.4,18.3" stroke="url(#g10)" stroke-width="3.50" stroke-linecap="butt" vector-effect="non-scaling-stroke"/>
<path d="M44.4,18.3 L45.4,18.3" stroke="url(#g10)" stroke-width="4.50" stroke-linecap="butt" vector-effect="non-scaling-stroke"/>
<path d="M45.4,18.3 L53,18.3" stroke="url(#g10)" stroke-width="5.30" stroke-linecap="butt" vector-effect="non-scaling-stroke"/>
<path d="M53,18.3 l0.01,0" stroke="url(#g10)" stroke-width="5.30" stroke-linecap="round" vector-effect="non-scaling-stroke"/>
<path d="M0,0 C5,0 9.5,1 13.5,4.5 C17.5,8 21,14.5 24.5,16.6 C26.5,17.8 28,18.3 31,18.3" stroke="#ffffff" stroke-width="1.02" opacity="0.22" transform="translate(0,-0.56)" vector-effect="non-scaling-stroke"/>
<path d="M30,17.32 L40.5,17.32 M45.5,17.32 L52,17.32" stroke="#ffffff" stroke-width="1.20" opacity="0.22" vector-effect="non-scaling-stroke"/>
</g>
<linearGradient id="g11" gradientUnits="userSpaceOnUse" x1="0" y1="0" x2="55.60" y2="0"><stop offset="0.000" stop-color="#c8b890"/><stop offset="0.150" stop-color="#d8c078"/><stop offset="0.400" stop-color="#c0a050"/><stop offset="0.500" stop-color="#b09050"/><stop offset="0.540" stop-color="#b8b8b8"/><stop offset="0.760" stop-color="#808080"/><stop offset="0.800" stop-color="#c0c0c0"/><stop offset="1.000" stop-color="#a8a8a8"/></linearGradient>
<g transform="translate(450.67,493.00) scale(1.0690,1.3607)" fill="none" stroke-linecap="round" stroke-linejoin="round">
<path d="M0,0 C5,0 9.5,1 13.5,4.5 C17.5,8 21,14.5 24.5,16.6 C26.5,17.8 28,18.3 31,18.3" stroke="url(#g11)" stroke-width="3.40" vector-effect="non-scaling-stroke"/>
<path d="M28.5,18.3 L40.8,18.3" stroke="url(#g11)" stroke-width="5.50" stroke-linecap="butt" vector-effect="non-scaling-stroke"/>
<path d="M40.8,18.3 L41.8,18.3" stroke="url(#g11)" stroke-width="4.60" stroke-linecap="butt" vector-effect="non-scaling-stroke"/>
<path d="M41.8,18.3 L44.4,18.3" stroke="url(#g11)" stroke-width="3.50" stroke-linecap="butt" vector-effect="non-scaling-stroke"/>
<path d="M44.4,18.3 L45.4,18.3" stroke="url(#g11)" stroke-width="4.50" stroke-linecap="butt" vector-effect="non-scaling-stroke"/>
<path d="M45.4,18.3 L53,18.3" stroke="url(#g11)" stroke-width="5.30" stroke-linecap="butt" vector-effect="non-scaling-stroke"/>
<path d="M53,18.3 l0.01,0" stroke="url(#g11)" stroke-width="5.30" stroke-linecap="round" vector-effect="non-scaling-stroke"/>
<path d="M0,0 C5,0 9.5,1 13.5,4.5 C17.5,8 21,14.5 24.5,16.6 C26.5,17.8 28,18.3 31,18.3" stroke="#ffffff" stroke-width="1.02" opacity="0.22" transform="translate(0,-0.55)" vector-effect="non-scaling-stroke"/>
<path d="M30,17.34 L40.5,17.34 M45.5,17.34 L52,17.34" stroke="#ffffff" stroke-width="1.20" opacity="0.22" vector-effect="non-scaling-stroke"/>
</g>
<path d="M449.5,486.6 C455,485.8 460,487.5 463.5,491" fill="none" stroke="#c0b498" stroke-width="2.6" stroke-linecap="round"/>
<linearGradient id="g12" gradientUnits="userSpaceOnUse" x1="0" y1="0" x2="55.60" y2="0"><stop offset="0.000" stop-color="#303030"/><stop offset="0.060" stop-color="#505050"/><stop offset="0.120" stop-color="#c4c4c4"/><stop offset="0.420" stop-color="#b0b0b0"/><stop offset="0.500" stop-color="#282828"/><stop offset="1.000" stop-color="#222222"/></linearGradient>
<g transform="translate(452.96,532.90) scale(0.9000,0.9617)" fill="none" stroke-linecap="round" stroke-linejoin="round">
<path d="M0,0 C5,0 9.5,1 13.5,4.5 C17.5,8 21,14.5 24.5,16.6 C26.5,17.8 28,18.3 31,18.3" stroke="url(#g12)" stroke-width="4.60" vector-effect="non-scaling-stroke"/>
<path d="M28.5,18.3 L40.8,18.3" stroke="url(#g12)" stroke-width="5.50" stroke-linecap="butt" vector-effect="non-scaling-stroke"/>
<path d="M40.8,18.3 L41.8,18.3" stroke="url(#g12)" stroke-width="4.60" stroke-linecap="butt" vector-effect="non-scaling-stroke"/>
<path d="M41.8,18.3 L44.4,18.3" stroke="url(#g12)" stroke-width="3.50" stroke-linecap="butt" vector-effect="non-scaling-stroke"/>
<path d="M44.4,18.3 L45.4,18.3" stroke="url(#g12)" stroke-width="4.50" stroke-linecap="butt" vector-effect="non-scaling-stroke"/>
<path d="M45.4,18.3 L53,18.3" stroke="url(#g12)" stroke-width="5.30" stroke-linecap="butt" vector-effect="non-scaling-stroke"/>
<path d="M53,18.3 l0.01,0" stroke="url(#g12)" stroke-width="5.30" stroke-linecap="round" vector-effect="non-scaling-stroke"/>
<path d="M0,0 C5,0 9.5,1 13.5,4.5 C17.5,8 21,14.5 24.5,16.6 C26.5,17.8 28,18.3 31,18.3" stroke="#ffffff" stroke-width="1.38" opacity="0.22" transform="translate(0,-1.05)" vector-effect="non-scaling-stroke"/>
<path d="M30,16.95 L40.5,16.95 M45.5,16.95 L52,16.95" stroke="#ffffff" stroke-width="1.20" opacity="0.22" vector-effect="non-scaling-stroke"/>
</g>
<linearGradient id="g13" gradientUnits="userSpaceOnUse" x1="0" y1="0" x2="55.60" y2="0"><stop offset="0.000" stop-color="#c89858"/><stop offset="0.100" stop-color="#ddb070"/><stop offset="0.400" stop-color="#c8903c"/><stop offset="0.500" stop-color="#a87838"/><stop offset="0.540" stop-color="#b0aaa4"/><stop offset="0.700" stop-color="#c4c4c4"/><stop offset="0.760" stop-color="#808080"/><stop offset="0.800" stop-color="#bdbdbd"/><stop offset="1.000" stop-color="#a0a0a0"/></linearGradient>
<g transform="translate(450.59,570.80) scale(0.9966,1.0000)" fill="none" stroke-linecap="round" stroke-linejoin="round">
<path d="M0,0 C5,0 9.5,1 13.5,4.5 C17.5,8 21,14.5 24.5,16.6 C26.5,17.8 28,18.3 31,18.3" stroke="url(#g13)" stroke-width="4.60" vector-effect="non-scaling-stroke"/>
<path d="M28.5,18.3 L40.8,18.3" stroke="url(#g13)" stroke-width="5.50" stroke-linecap="butt" vector-effect="non-scaling-stroke"/>
<path d="M40.8,18.3 L41.8,18.3" stroke="url(#g13)" stroke-width="4.60" stroke-linecap="butt" vector-effect="non-scaling-stroke"/>
<path d="M41.8,18.3 L44.4,18.3" stroke="url(#g13)" stroke-width="3.50" stroke-linecap="butt" vector-effect="non-scaling-stroke"/>
<path d="M44.4,18.3 L45.4,18.3" stroke="url(#g13)" stroke-width="4.50" stroke-linecap="butt" vector-effect="non-scaling-stroke"/>
<path d="M45.4,18.3 L53,18.3" stroke="url(#g13)" stroke-width="5.30" stroke-linecap="butt" vector-effect="non-scaling-stroke"/>
<path d="M53,18.3 l0.01,0" stroke="url(#g13)" stroke-width="5.30" stroke-linecap="round" vector-effect="non-scaling-stroke"/>
<path d="M0,0 C5,0 9.5,1 13.5,4.5 C17.5,8 21,14.5 24.5,16.6 C26.5,17.8 28,18.3 31,18.3" stroke="#ffffff" stroke-width="1.38" opacity="0.22" transform="translate(0,-1.01)" vector-effect="non-scaling-stroke"/>
<path d="M30,17.00 L40.5,17.00 M45.5,17.00 L52,17.00" stroke="#ffffff" stroke-width="1.20" opacity="0.22" vector-effect="non-scaling-stroke"/>
</g>
<linearGradient id="g14" gradientUnits="userSpaceOnUse" x1="0" y1="0" x2="55.60" y2="0"><stop offset="0.000" stop-color="#5a524a"/><stop offset="0.200" stop-color="#4a443e"/><stop offset="0.500" stop-color="#3a3430"/><stop offset="1.000" stop-color="#2c2826"/></linearGradient>
<g transform="translate(452.53,607.90) scale(0.9310,1.1475)" fill="none" stroke-linecap="round" stroke-linejoin="round">
<path d="M0,0 C5,0 9.5,1 13.5,4.5 C17.5,8 21,14.5 24.5,16.6 C26.5,17.8 28,18.3 31,18.3" stroke="url(#g14)" stroke-width="4.60" vector-effect="non-scaling-stroke"/>
<path d="M28.5,18.3 L40.8,18.3" stroke="url(#g14)" stroke-width="5.50" stroke-linecap="butt" vector-effect="non-scaling-stroke"/>
<path d="M40.8,18.3 L41.8,18.3" stroke="url(#g14)" stroke-width="4.60" stroke-linecap="butt" vector-effect="non-scaling-stroke"/>
<path d="M41.8,18.3 L44.4,18.3" stroke="url(#g14)" stroke-width="3.50" stroke-linecap="butt" vector-effect="non-scaling-stroke"/>
<path d="M44.4,18.3 L45.4,18.3" stroke="url(#g14)" stroke-width="4.50" stroke-linecap="butt" vector-effect="non-scaling-stroke"/>
<path d="M45.4,18.3 L53,18.3" stroke="url(#g14)" stroke-width="5.30" stroke-linecap="butt" vector-effect="non-scaling-stroke"/>
<path d="M53,18.3 l0.01,0" stroke="url(#g14)" stroke-width="5.30" stroke-linecap="round" vector-effect="non-scaling-stroke"/>
<path d="M0,0 C5,0 9.5,1 13.5,4.5 C17.5,8 21,14.5 24.5,16.6 C26.5,17.8 28,18.3 31,18.3" stroke="#ffffff" stroke-width="1.38" opacity="0.22" transform="translate(0,-0.88)" vector-effect="non-scaling-stroke"/>
<path d="M30,17.17 L40.5,17.17 M45.5,17.17 L52,17.17" stroke="#ffffff" stroke-width="1.20" opacity="0.22" vector-effect="non-scaling-stroke"/>
</g>
<linearGradient id="g15" gradientUnits="userSpaceOnUse" x1="0" y1="0" x2="55.60" y2="0"><stop offset="0.000" stop-color="#5a5a5a"/><stop offset="0.400" stop-color="#545454"/><stop offset="1.000" stop-color="#4e4e4e"/></linearGradient>
<g transform="translate(453.58,648.20) scale(0.9086,0.9563)" fill="none" stroke-linecap="round" stroke-linejoin="round">
<path d="M0,0 C5,0 9.5,1 13.5,4.5 C17.5,8 21,14.5 24.5,16.6 C26.5,17.8 28,18.3 31,18.3" stroke="url(#g15)" stroke-width="4.60" vector-effect="non-scaling-stroke"/>
<path d="M28.5,18.3 L40.8,18.3" stroke="url(#g15)" stroke-width="5.50" stroke-linecap="butt" vector-effect="non-scaling-stroke"/>
<path d="M40.8,18.3 L41.8,18.3" stroke="url(#g15)" stroke-width="4.60" stroke-linecap="butt" vector-effect="non-scaling-stroke"/>
<path d="M41.8,18.3 L44.4,18.3" stroke="url(#g15)" stroke-width="3.50" stroke-linecap="butt" vector-effect="non-scaling-stroke"/>
<path d="M44.4,18.3 L45.4,18.3" stroke="url(#g15)" stroke-width="4.50" stroke-linecap="butt" vector-effect="non-scaling-stroke"/>
<path d="M45.4,18.3 L53,18.3" stroke="url(#g15)" stroke-width="5.30" stroke-linecap="butt" vector-effect="non-scaling-stroke"/>
<path d="M53,18.3 l0.01,0" stroke="url(#g15)" stroke-width="5.30" stroke-linecap="round" vector-effect="non-scaling-stroke"/>
<path d="M0,0 C5,0 9.5,1 13.5,4.5 C17.5,8 21,14.5 24.5,16.6 C26.5,17.8 28,18.3 31,18.3" stroke="#ffffff" stroke-width="1.38" opacity="0.22" transform="translate(0,-1.06)" vector-effect="non-scaling-stroke"/>
<path d="M30,16.94 L40.5,16.94 M45.5,16.94 L52,16.94" stroke="#ffffff" stroke-width="1.20" opacity="0.22" vector-effect="non-scaling-stroke"/>
</g>
<linearGradient id="g16" gradientUnits="userSpaceOnUse" x1="0" y1="0" x2="55.60" y2="0"><stop offset="0.000" stop-color="#c89858"/><stop offset="0.100" stop-color="#ddb070"/><stop offset="0.400" stop-color="#c8903c"/><stop offset="0.500" stop-color="#a87838"/><stop offset="0.540" stop-color="#b0aaa4"/><stop offset="0.700" stop-color="#c4c4c4"/><stop offset="0.760" stop-color="#808080"/><stop offset="0.800" stop-color="#bdbdbd"/><stop offset="1.000" stop-color="#a0a0a0"/></linearGradient>
<g transform="translate(450.44,684.40) scale(1.0172,1.0546)" fill="none" stroke-linecap="round" stroke-linejoin="round">
<path d="M0,0 C5,0 9.5,1 13.5,4.5 C17.5,8 21,14.5 24.5,16.6 C26.5,17.8 28,18.3 31,18.3" stroke="url(#g16)" stroke-width="4.60" vector-effect="non-scaling-stroke"/>
<path d="M28.5,18.3 L40.8,18.3" stroke="url(#g16)" stroke-width="5.50" stroke-linecap="butt" vector-effect="non-scaling-stroke"/>
<path d="M40.8,18.3 L41.8,18.3" stroke="url(#g16)" stroke-width="4.60" stroke-linecap="butt" vector-effect="non-scaling-stroke"/>
<path d="M41.8,18.3 L44.4,18.3" stroke="url(#g16)" stroke-width="3.50" stroke-linecap="butt" vector-effect="non-scaling-stroke"/>
<path d="M44.4,18.3 L45.4,18.3" stroke="url(#g16)" stroke-width="4.50" stroke-linecap="butt" vector-effect="non-scaling-stroke"/>
<path d="M45.4,18.3 L53,18.3" stroke="url(#g16)" stroke-width="5.30" stroke-linecap="butt" vector-effect="non-scaling-stroke"/>
<path d="M53,18.3 l0.01,0" stroke="url(#g16)" stroke-width="5.30" stroke-linecap="round" vector-effect="non-scaling-stroke"/>
<path d="M0,0 C5,0 9.5,1 13.5,4.5 C17.5,8 21,14.5 24.5,16.6 C26.5,17.8 28,18.3 31,18.3" stroke="#ffffff" stroke-width="1.38" opacity="0.22" transform="translate(0,-0.96)" vector-effect="non-scaling-stroke"/>
<path d="M30,17.07 L40.5,17.07 M45.5,17.07 L52,17.07" stroke="#ffffff" stroke-width="1.20" opacity="0.22" vector-effect="non-scaling-stroke"/>
</g>
<linearGradient id="g17" gradientUnits="userSpaceOnUse" x1="0" y1="0" x2="55.60" y2="0"><stop offset="0.000" stop-color="#303030"/><stop offset="0.060" stop-color="#505050"/><stop offset="0.120" stop-color="#c4c4c4"/><stop offset="0.420" stop-color="#b0b0b0"/><stop offset="0.500" stop-color="#282828"/><stop offset="1.000" stop-color="#222222"/></linearGradient>
<g transform="translate(441.69,724.60) scale(0.9966,1.0984)" fill="none" stroke-linecap="round" stroke-linejoin="round">
<path d="M0,0 C5,0 9.5,1 13.5,4.5 C17.5,8 21,14.5 24.5,16.6 C26.5,17.8 28,18.3 31,18.3" stroke="url(#g17)" stroke-width="4.60" vector-effect="non-scaling-stroke"/>
<path d="M28.5,18.3 L40.8,18.3" stroke="url(#g17)" stroke-width="5.50" stroke-linecap="butt" vector-effect="non-scaling-stroke"/>
<path d="M40.8,18.3 L41.8,18.3" stroke="url(#g17)" stroke-width="4.60" stroke-linecap="butt" vector-effect="non-scaling-stroke"/>
<path d="M41.8,18.3 L44.4,18.3" stroke="url(#g17)" stroke-width="3.50" stroke-linecap="butt" vector-effect="non-scaling-stroke"/>
<path d="M44.4,18.3 L45.4,18.3" stroke="url(#g17)" stroke-width="4.50" stroke-linecap="butt" vector-effect="non-scaling-stroke"/>
<path d="M45.4,18.3 L53,18.3" stroke="url(#g17)" stroke-width="5.30" stroke-linecap="butt" vector-effect="non-scaling-stroke"/>
<path d="M53,18.3 l0.01,0" stroke="url(#g17)" stroke-width="5.30" stroke-linecap="round" vector-effect="non-scaling-stroke"/>
<path d="M0,0 C5,0 9.5,1 13.5,4.5 C17.5,8 21,14.5 24.5,16.6 C26.5,17.8 28,18.3 31,18.3" stroke="#ffffff" stroke-width="1.38" opacity="0.22" transform="translate(0,-0.92)" vector-effect="non-scaling-stroke"/>
<path d="M30,17.12 L40.5,17.12 M45.5,17.12 L52,17.12" stroke="#ffffff" stroke-width="1.20" opacity="0.22" vector-effect="non-scaling-stroke"/>
</g>
<linearGradient id="g18" gradientUnits="userSpaceOnUse" x1="0" y1="0" x2="55.60" y2="0"><stop offset="0.000" stop-color="#555555"/><stop offset="0.500" stop-color="#525252"/><stop offset="1.000" stop-color="#4a4a4a"/></linearGradient>
<g transform="translate(452.48,762.60) scale(0.9086,0.9399)" fill="none" stroke-linecap="round" stroke-linejoin="round">
<path d="M0,0 C5,0 9.5,1 13.5,4.5 C17.5,8 21,14.5 24.5,16.6 C26.5,17.8 28,18.3 31,18.3" stroke="url(#g18)" stroke-width="4.60" vector-effect="non-scaling-stroke"/>
<path d="M28.5,18.3 L40.8,18.3" stroke="url(#g18)" stroke-width="5.50" stroke-linecap="butt" vector-effect="non-scaling-stroke"/>
<path d="M40.8,18.3 L41.8,18.3" stroke="url(#g18)" stroke-width="4.60" stroke-linecap="butt" vector-effect="non-scaling-stroke"/>
<path d="M41.8,18.3 L44.4,18.3" stroke="url(#g18)" stroke-width="3.50" stroke-linecap="butt" vector-effect="non-scaling-stroke"/>
<path d="M44.4,18.3 L45.4,18.3" stroke="url(#g18)" stroke-width="4.50" stroke-linecap="butt" vector-effect="non-scaling-stroke"/>
<path d="M45.4,18.3 L53,18.3" stroke="url(#g18)" stroke-width="5.30" stroke-linecap="butt" vector-effect="non-scaling-stroke"/>
<path d="M53,18.3 l0.01,0" stroke="url(#g18)" stroke-width="5.30" stroke-linecap="round" vector-effect="non-scaling-stroke"/>
<path d="M0,0 C5,0 9.5,1 13.5,4.5 C17.5,8 21,14.5 24.5,16.6 C26.5,17.8 28,18.3 31,18.3" stroke="#ffffff" stroke-width="1.38" opacity="0.22" transform="translate(0,-1.08)" vector-effect="non-scaling-stroke"/>
<path d="M30,16.92 L40.5,16.92 M45.5,16.92 L52,16.92" stroke="#ffffff" stroke-width="1.20" opacity="0.22" vector-effect="non-scaling-stroke"/>
</g>
<linearGradient id="g19" gradientUnits="userSpaceOnUse" x1="0" y1="0" x2="58.20" y2="0"><stop offset="0.000" stop-color="#3a3a3a"/><stop offset="0.120" stop-color="#6e6e6e"/><stop offset="0.350" stop-color="#7a7a7a"/><stop offset="0.500" stop-color="#3c3c3c"/><stop offset="1.000" stop-color="#303030"/></linearGradient>
<g transform="translate(447.56,804.00) scale(1.0797,1.0138)" fill="none" stroke-linecap="round" stroke-linejoin="round">
<path d="M0,9.3 C2.5,4.5 7,0.5 12,0 C17,-0.3 20,2 23,6 C26,10 28,13.5 31,14.5" stroke="url(#g19)" stroke-width="5.30" vector-effect="non-scaling-stroke"/>
<path d="M29,14.5 L42.8,14.5" stroke="url(#g19)" stroke-width="5.50" stroke-linecap="butt" vector-effect="non-scaling-stroke"/>
<path d="M42.8,14.5 L43.8,14.5" stroke="url(#g19)" stroke-width="4.60" stroke-linecap="butt" vector-effect="non-scaling-stroke"/>
<path d="M43.8,14.5 L46.4,14.5" stroke="url(#g19)" stroke-width="3.50" stroke-linecap="butt" vector-effect="non-scaling-stroke"/>
<path d="M46.4,14.5 L47.4,14.5" stroke="url(#g19)" stroke-width="4.60" stroke-linecap="butt" vector-effect="non-scaling-stroke"/>
<path d="M47.4,14.5 L55.5,14.5" stroke="url(#g19)" stroke-width="5.50" stroke-linecap="butt" vector-effect="non-scaling-stroke"/>
<path d="M55.5,14.5 l0.01,0" stroke="url(#g19)" stroke-width="5.50" stroke-linecap="round" vector-effect="non-scaling-stroke"/>
<path d="M0,9.3 C2.5,4.5 7,0.5 12,0 C17,-0.3 20,2 23,6 C26,10 28,13.5 31,14.5" stroke="#ffffff" stroke-width="1.59" opacity="0.22" transform="translate(0,-1.15)" vector-effect="non-scaling-stroke"/>
<path d="M30,13.22 L40.5,13.22 M45.5,13.22 L52,13.22" stroke="#ffffff" stroke-width="1.20" opacity="0.22" vector-effect="non-scaling-stroke"/>
</g>
<linearGradient id="g20" gradientUnits="userSpaceOnUse" x1="0" y1="0" x2="58.20" y2="0"><stop offset="0.000" stop-color="#d8a050"/><stop offset="0.300" stop-color="#b88848"/><stop offset="0.480" stop-color="#c09050"/><stop offset="0.520" stop-color="#b0b0b0"/><stop offset="0.700" stop-color="#c8c8c8"/><stop offset="0.750" stop-color="#707070"/><stop offset="0.800" stop-color="#c8c8c8"/><stop offset="1.000" stop-color="#909090"/></linearGradient>
<g transform="translate(449.74,841.50) scale(1.0183,0.8966)" fill="none" stroke-linecap="round" stroke-linejoin="round">
<path d="M0,9.3 C2.5,4.5 7,0.5 12,0 C17,-0.3 20,2 23,6 C26,10 28,13.5 31,14.5" stroke="url(#g20)" stroke-width="4.60" vector-effect="non-scaling-stroke"/>
<path d="M29,14.5 L42.8,14.5" stroke="url(#g20)" stroke-width="5.50" stroke-linecap="butt" vector-effect="non-scaling-stroke"/>
<path d="M42.8,14.5 L43.8,14.5" stroke="url(#g20)" stroke-width="4.60" stroke-linecap="butt" vector-effect="non-scaling-stroke"/>
<path d="M43.8,14.5 L46.4,14.5" stroke="url(#g20)" stroke-width="3.50" stroke-linecap="butt" vector-effect="non-scaling-stroke"/>
<path d="M46.4,14.5 L47.4,14.5" stroke="url(#g20)" stroke-width="4.60" stroke-linecap="butt" vector-effect="non-scaling-stroke"/>
<path d="M47.4,14.5 L55.5,14.5" stroke="url(#g20)" stroke-width="5.50" stroke-linecap="butt" vector-effect="non-scaling-stroke"/>
<path d="M55.5,14.5 l0.01,0" stroke="url(#g20)" stroke-width="5.50" stroke-linecap="round" vector-effect="non-scaling-stroke"/>
<path d="M0,9.3 C2.5,4.5 7,0.5 12,0 C17,-0.3 20,2 23,6 C26,10 28,13.5 31,14.5" stroke="#ffffff" stroke-width="1.38" opacity="0.22" transform="translate(0,-1.13)" vector-effect="non-scaling-stroke"/>
<path d="M30,13.05 L40.5,13.05 M45.5,13.05 L52,13.05" stroke="#ffffff" stroke-width="1.20" opacity="0.22" vector-effect="non-scaling-stroke"/>
</g>
<linearGradient id="g21" gradientUnits="userSpaceOnUse" x1="0" y1="0" x2="58.20" y2="0"><stop offset="0.000" stop-color="#2e2e2e"/><stop offset="0.300" stop-color="#404040"/><stop offset="0.500" stop-color="#2a2a2a"/><stop offset="1.000" stop-color="#2a2a2a"/></linearGradient>
<g transform="translate(451.19,879.00) scale(0.9934,0.9862)" fill="none" stroke-linecap="round" stroke-linejoin="round">
<path d="M0,9.3 C2.5,4.5 7,0.5 12,0 C17,-0.3 20,2 23,6 C26,10 28,13.5 31,14.5" stroke="url(#g21)" stroke-width="5.00" vector-effect="non-scaling-stroke"/>
<path d="M29,14.5 L42.8,14.5" stroke="url(#g21)" stroke-width="5.50" stroke-linecap="butt" vector-effect="non-scaling-stroke"/>
<path d="M42.8,14.5 L43.8,14.5" stroke="url(#g21)" stroke-width="4.60" stroke-linecap="butt" vector-effect="non-scaling-stroke"/>
<path d="M43.8,14.5 L46.4,14.5" stroke="url(#g21)" stroke-width="3.50" stroke-linecap="butt" vector-effect="non-scaling-stroke"/>
<path d="M46.4,14.5 L47.4,14.5" stroke="url(#g21)" stroke-width="4.60" stroke-linecap="butt" vector-effect="non-scaling-stroke"/>
<path d="M47.4,14.5 L55.5,14.5" stroke="url(#g21)" stroke-width="5.50" stroke-linecap="butt" vector-effect="non-scaling-stroke"/>
<path d="M55.5,14.5 l0.01,0" stroke="url(#g21)" stroke-width="5.50" stroke-linecap="round" vector-effect="non-scaling-stroke"/>
<path d="M0,9.3 C2.5,4.5 7,0.5 12,0 C17,-0.3 20,2 23,6 C26,10 28,13.5 31,14.5" stroke="#ffffff" stroke-width="1.50" opacity="0.22" transform="translate(0,-1.12)" vector-effect="non-scaling-stroke"/>
<path d="M30,13.18 L40.5,13.18 M45.5,13.18 L52,13.18" stroke="#ffffff" stroke-width="1.20" opacity="0.22" vector-effect="non-scaling-stroke"/>
</g>
<polygon points="430.9,925.10 506.9,923.50 506.9,928.30 430.9,927.50" fill="#8c8c8c"/>
<path d="M431,925.70 L506.5,924.50" stroke="#b4b4b4" stroke-width="0.8"/>
<path d="M430.2,967.60 C430,962.10 432,959.70 436,958.90 L447,958.10" fill="none" stroke="#c8c8c8" stroke-width="2.2" stroke-linecap="round"/>
<path d="M446,958.10 L476,957.10 C481,957.10 484,964.10 487,967.60 C489,969.10 490,969.50 494,969.50" fill="none" stroke="#2a2a2e" stroke-width="3.8" stroke-linecap="round"/>
<path d="M492,969.50 L500,969.50 M503,969.50 L508.5,969.50" fill="none" stroke="#2a2a2e" stroke-width="4.8" stroke-linecap="round"/>
<path d="M500,969.50 L503,969.50" fill="none" stroke="#2a2a2e" stroke-width="3.4"/>
<path d="M463.5,997.25 L500.6,997.25" stroke="#969696" stroke-width="5.6" stroke-linecap="round"/>
<path d="M465,995.85 L500,995.85" stroke="#bdbdbd" stroke-width="1.2"/>
<polygon points="458.8,992.25 465,992.65 462.2,1012.65 455.8,1012.25" fill="#8e8e8e"/>
<polygon points="457,1006.25 463.2,1006.65 462.2,1012.65 455.8,1012.25" fill="#505050"/>
<path d="M518.00,107.20 C521.00,103.20 528.50,102.50 532.30,107.00 C533.50,108.50 534.30,110.10 534.80,112.20" fill="none" stroke="#28465f" stroke-width="1.15" stroke-linecap="round"/>
<polygon points="535.35,116.70 532.57,112.45 536.85,111.84" fill="#28465f"/>
<path d="M518.00,145.45 C521.00,141.45 528.50,140.75 532.30,145.25 C533.50,146.75 534.30,148.35 534.80,150.45" fill="none" stroke="#28465f" stroke-width="1.15" stroke-linecap="round"/>
<polygon points="535.35,154.95 532.57,150.70 536.85,150.09" fill="#28465f"/>
<path d="M518.00,183.70 C521.00,179.70 528.50,179.00 532.30,183.50 C533.50,185.00 534.30,186.60 534.80,188.70" fill="none" stroke="#28465f" stroke-width="1.15" stroke-linecap="round"/>
<polygon points="535.35,193.20 532.57,188.95 536.85,188.34" fill="#28465f"/>
<path d="M518.00,222.20 C521.00,218.20 528.50,217.50 532.30,222.00 C533.50,223.50 534.30,225.10 534.80,227.20" fill="none" stroke="#28465f" stroke-width="1.15" stroke-linecap="round"/>
<polygon points="535.35,231.70 532.57,227.45 536.85,226.84" fill="#28465f"/>
<path d="M518.00,260.55 C521.00,256.55 528.50,255.85 532.30,260.35 C533.50,261.85 534.30,263.45 534.80,265.55" fill="none" stroke="#28465f" stroke-width="1.15" stroke-linecap="round"/>
<polygon points="535.35,270.05 532.57,265.80 536.85,265.19" fill="#28465f"/>
<path d="M535.90,299.00 C532.90,295.00 525.40,294.30 521.60,298.80 C520.40,300.30 519.60,301.90 519.10,304.00" fill="none" stroke="#28465f" stroke-width="1.15" stroke-linecap="round"/>
<polygon points="518.55,308.50 517.05,303.64 521.33,304.25" fill="#28465f"/>
<path d="M518.00,337.20 C521.00,333.20 528.50,332.50 532.30,337.00 C533.50,338.50 534.30,340.10 534.80,342.20" fill="none" stroke="#28465f" stroke-width="1.15" stroke-linecap="round"/>
<polygon points="535.35,346.70 532.57,342.45 536.85,341.84" fill="#28465f"/>
<path d="M535.90,375.60 C532.90,371.60 525.40,370.90 521.60,375.40 C520.40,376.90 519.60,378.50 519.10,380.60" fill="none" stroke="#28465f" stroke-width="1.15" stroke-linecap="round"/>
<polygon points="518.55,385.10 517.05,380.24 521.33,380.85" fill="#28465f"/>
<path d="M518.00,414.15 C521.00,410.15 528.50,409.45 532.30,413.95 C533.50,415.45 534.30,417.05 534.80,419.15" fill="none" stroke="#28465f" stroke-width="1.15" stroke-linecap="round"/>
<polygon points="535.35,423.65 532.57,419.40 536.85,418.79" fill="#28465f"/>
<path d="M518.00,452.20 C521.00,448.20 528.50,447.50 532.30,452.00 C533.50,453.50 534.30,455.10 534.80,457.20" fill="none" stroke="#28465f" stroke-width="1.15" stroke-linecap="round"/>
<polygon points="535.35,461.70 532.57,457.45 536.85,456.84" fill="#28465f"/>
<path d="M518.00,494.85 C521.00,490.85 528.50,490.15 532.30,494.65 C533.50,496.15 534.30,497.75 534.80,499.85" fill="none" stroke="#28465f" stroke-width="1.15" stroke-linecap="round"/>
<polygon points="535.35,504.35 532.57,500.10 536.85,499.49" fill="#28465f"/>
<path d="M518.2,489.75 C520.5,486.35 528,486.05 532.4,490.85" fill="none" stroke="#28465f" stroke-width="1.15" stroke-linecap="round"/>
<path d="M518.00,533.55 C521.00,529.55 528.50,528.85 532.30,533.35 C533.50,534.85 534.30,536.45 534.80,538.55" fill="none" stroke="#28465f" stroke-width="1.15" stroke-linecap="round"/>
<polygon points="535.35,543.05 532.57,538.80 536.85,538.19" fill="#28465f"/>
<path d="M518.00,572.20 C521.00,568.20 528.50,567.50 532.30,572.00 C533.50,573.50 534.30,575.10 534.80,577.20" fill="none" stroke="#28465f" stroke-width="1.15" stroke-linecap="round"/>
<polygon points="535.35,581.70 532.57,577.45 536.85,576.84" fill="#28465f"/>
<path d="M516.8,616.40 A10.1,9.2 0 0 1 537.0,616.40" fill="none" stroke="#28465f" stroke-width="1.15"/>
<polygon points="537.00,620.20 535.09,615.73 539.22,615.87" fill="#28465f"/>
<polygon points="516.80,620.20 514.58,615.87 518.71,615.73" fill="#28465f"/>
<path d="M516.8,654.20 A10.1,9.2 0 0 1 537.0,654.20" fill="none" stroke="#28465f" stroke-width="1.15"/>
<polygon points="537.00,658.00 535.09,653.53 539.22,653.67" fill="#28465f"/>
<polygon points="516.80,658.00 514.58,653.67 518.71,653.53" fill="#28465f"/>
<path d="M516.8,692.70 A10.1,9.2 0 0 1 537.0,692.70" fill="none" stroke="#28465f" stroke-width="1.15"/>
<polygon points="537.00,696.50 535.09,692.03 539.22,692.17" fill="#28465f"/>
<polygon points="516.80,696.50 514.58,692.17 518.71,692.03" fill="#28465f"/>
<path d="M518.00,726.40 C521.00,722.40 528.50,721.70 532.30,726.20 C533.50,727.70 534.30,729.30 534.80,731.40" fill="none" stroke="#28465f" stroke-width="1.15" stroke-linecap="round"/>
<polygon points="535.35,735.90 532.57,731.65 536.85,731.04" fill="#28465f"/>
<path d="M518.00,764.25 C521.00,760.25 528.50,759.55 532.30,764.05 C533.50,765.55 534.30,767.15 534.80,769.25" fill="none" stroke="#28465f" stroke-width="1.15" stroke-linecap="round"/>
<polygon points="535.35,773.75 532.57,769.50 536.85,768.89" fill="#28465f"/>
<path d="M518.00,802.50 C521.00,798.50 528.50,797.80 532.30,802.30 C533.50,803.80 534.30,805.40 534.80,807.50" fill="none" stroke="#28465f" stroke-width="1.15" stroke-linecap="round"/>
<polygon points="535.35,812.00 532.57,807.75 536.85,807.14" fill="#28465f"/>
<path d="M518.00,841.40 C521.00,837.40 528.50,836.70 532.30,841.20 C533.50,842.70 534.30,844.30 534.80,846.40" fill="none" stroke="#28465f" stroke-width="1.15" stroke-linecap="round"/>
<polygon points="535.35,850.90 532.57,846.65 536.85,846.04" fill="#28465f"/>
<path d="M516.8,884.60 A10.1,9.2 0 0 1 537.0,884.60" fill="none" stroke="#28465f" stroke-width="1.15"/>
<polygon points="537.00,888.40 535.09,883.93 539.22,884.07" fill="#28465f"/>
<polygon points="516.80,888.40 514.58,884.07 518.71,883.93" fill="#28465f"/>
<path d="M518.00,917.50 C521.00,913.50 528.50,912.80 532.30,917.30 C533.50,918.80 534.30,920.40 534.80,922.50" fill="none" stroke="#28465f" stroke-width="1.15" stroke-linecap="round"/>
<polygon points="535.35,927.00 532.57,922.75 536.85,922.14" fill="#28465f"/>
<path d="M518.00,955.70 C521.00,951.70 528.50,951.00 532.30,955.50 C533.50,957.00 534.30,958.60 534.80,960.70" fill="none" stroke="#28465f" stroke-width="1.15" stroke-linecap="round"/>
<polygon points="535.35,965.20 532.57,960.95 536.85,960.34" fill="#28465f"/>
<path d="M516.8,1002.75 L531,1002.75" stroke="#1a5a92" stroke-width="3.0"/>
<polygon points="529.5,1001.15 535.8,1002.75 529.5,1004.35" fill="#1a5a92"/>
</svg></body></html>
